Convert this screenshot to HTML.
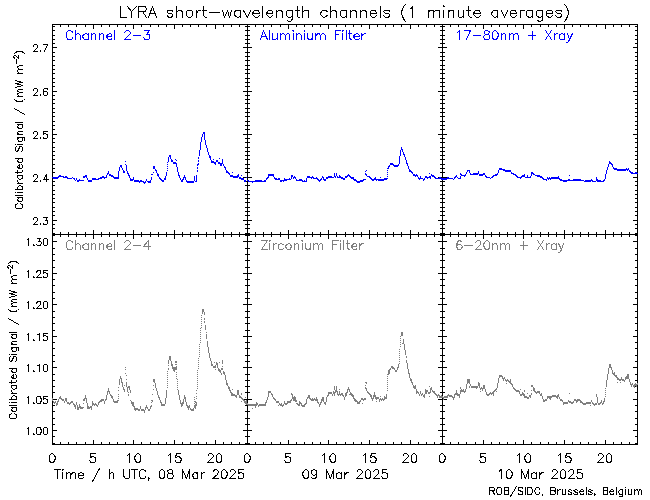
<!DOCTYPE html>
<html lang="en"><head><meta charset="utf-8"><title>LYRA short-wavelength channels (1 minute averages)</title>
<style>html,body{margin:0;padding:0;background:#fff;font-family:"Liberation Sans",sans-serif}svg{display:block}</style>
</head><body>
<svg width="650" height="500" viewBox="0 0 650 500" shape-rendering="crispEdges" fill="none" stroke-width="1" stroke-linecap="square" stroke-linejoin="miter">
<rect width="650" height="500" fill="#fff"/>
<g stroke="#000" stroke-linecap="butt"><path d="M52.5 24 V445M247.5 24 V445M442.5 24 V445M637.5 24 V445M52 24.5 H638M52 234.5 H638M52 444.5 H638M52.5 24 V29M52.5 230 V239M52.5 440 V445M60.5 24 V27M60.5 232 V237M60.5 442 V445M68.5 24 V27M68.5 232 V237M68.5 442 V445M76.5 24 V27M76.5 232 V237M76.5 442 V445M85.5 24 V27M85.5 232 V237M85.5 442 V445M93.5 24 V29M93.5 230 V239M93.5 440 V445M101.5 24 V27M101.5 232 V237M101.5 442 V445M109.5 24 V27M109.5 232 V237M109.5 442 V445M117.5 24 V27M117.5 232 V237M117.5 442 V445M125.5 24 V27M125.5 232 V237M125.5 442 V445M133.5 24 V29M133.5 230 V239M133.5 440 V445M141.5 24 V27M141.5 232 V237M141.5 442 V445M150.5 24 V27M150.5 232 V237M150.5 442 V445M158.5 24 V27M158.5 232 V237M158.5 442 V445M166.5 24 V27M166.5 232 V237M166.5 442 V445M174.5 24 V29M174.5 230 V239M174.5 440 V445M182.5 24 V27M182.5 232 V237M182.5 442 V445M190.5 24 V27M190.5 232 V237M190.5 442 V445M198.5 24 V27M198.5 232 V237M198.5 442 V445M206.5 24 V27M206.5 232 V237M206.5 442 V445M215.5 24 V29M215.5 230 V239M215.5 440 V445M223.5 24 V27M223.5 232 V237M223.5 442 V445M231.5 24 V27M231.5 232 V237M231.5 442 V445M239.5 24 V27M239.5 232 V237M239.5 442 V445M247.5 24 V27M247.5 232 V237M247.5 442 V445M247.5 24 V29M247.5 230 V239M247.5 440 V445M255.5 24 V27M255.5 232 V237M255.5 442 V445M263.5 24 V27M263.5 232 V237M263.5 442 V445M271.5 24 V27M271.5 232 V237M271.5 442 V445M280.5 24 V27M280.5 232 V237M280.5 442 V445M288.5 24 V29M288.5 230 V239M288.5 440 V445M296.5 24 V27M296.5 232 V237M296.5 442 V445M304.5 24 V27M304.5 232 V237M304.5 442 V445M312.5 24 V27M312.5 232 V237M312.5 442 V445M320.5 24 V27M320.5 232 V237M320.5 442 V445M328.5 24 V29M328.5 230 V239M328.5 440 V445M336.5 24 V27M336.5 232 V237M336.5 442 V445M345.5 24 V27M345.5 232 V237M345.5 442 V445M353.5 24 V27M353.5 232 V237M353.5 442 V445M361.5 24 V27M361.5 232 V237M361.5 442 V445M369.5 24 V29M369.5 230 V239M369.5 440 V445M377.5 24 V27M377.5 232 V237M377.5 442 V445M385.5 24 V27M385.5 232 V237M385.5 442 V445M393.5 24 V27M393.5 232 V237M393.5 442 V445M401.5 24 V27M401.5 232 V237M401.5 442 V445M410.5 24 V29M410.5 230 V239M410.5 440 V445M418.5 24 V27M418.5 232 V237M418.5 442 V445M426.5 24 V27M426.5 232 V237M426.5 442 V445M434.5 24 V27M434.5 232 V237M434.5 442 V445M442.5 24 V27M442.5 232 V237M442.5 442 V445M442.5 24 V29M442.5 230 V239M442.5 440 V445M450.5 24 V27M450.5 232 V237M450.5 442 V445M458.5 24 V27M458.5 232 V237M458.5 442 V445M466.5 24 V27M466.5 232 V237M466.5 442 V445M475.5 24 V27M475.5 232 V237M475.5 442 V445M483.5 24 V29M483.5 230 V239M483.5 440 V445M491.5 24 V27M491.5 232 V237M491.5 442 V445M499.5 24 V27M499.5 232 V237M499.5 442 V445M507.5 24 V27M507.5 232 V237M507.5 442 V445M515.5 24 V27M515.5 232 V237M515.5 442 V445M523.5 24 V29M523.5 230 V239M523.5 440 V445M531.5 24 V27M531.5 232 V237M531.5 442 V445M540.5 24 V27M540.5 232 V237M540.5 442 V445M548.5 24 V27M548.5 232 V237M548.5 442 V445M556.5 24 V27M556.5 232 V237M556.5 442 V445M564.5 24 V29M564.5 230 V239M564.5 440 V445M572.5 24 V27M572.5 232 V237M572.5 442 V445M580.5 24 V27M580.5 232 V237M580.5 442 V445M588.5 24 V27M588.5 232 V237M588.5 442 V445M596.5 24 V27M596.5 232 V237M596.5 442 V445M605.5 24 V29M605.5 230 V239M605.5 440 V445M613.5 24 V27M613.5 232 V237M613.5 442 V445M621.5 24 V27M621.5 232 V237M621.5 442 V445M629.5 24 V27M629.5 232 V237M629.5 442 V445M637.5 24 V27M637.5 232 V237M637.5 442 V445M52 26.5 H55M245 26.5 H250M440 26.5 H445M635 26.5 H638M52 30.5 H55M245 30.5 H250M440 30.5 H445M635 30.5 H638M52 35.5 H55M245 35.5 H250M440 35.5 H445M635 35.5 H638M52 39.5 H55M245 39.5 H250M440 39.5 H445M635 39.5 H638M52 43.5 H55M245 43.5 H250M440 43.5 H445M635 43.5 H638M52 47.5 H57M243 47.5 H252M438 47.5 H447M633 47.5 H638M52 52.5 H55M245 52.5 H250M440 52.5 H445M635 52.5 H638M52 56.5 H55M245 56.5 H250M440 56.5 H445M635 56.5 H638M52 60.5 H55M245 60.5 H250M440 60.5 H445M635 60.5 H638M52 65.5 H55M245 65.5 H250M440 65.5 H445M635 65.5 H638M52 69.5 H55M245 69.5 H250M440 69.5 H445M635 69.5 H638M52 73.5 H55M245 73.5 H250M440 73.5 H445M635 73.5 H638M52 78.5 H55M245 78.5 H250M440 78.5 H445M635 78.5 H638M52 82.5 H55M245 82.5 H250M440 82.5 H445M635 82.5 H638M52 86.5 H55M245 86.5 H250M440 86.5 H445M635 86.5 H638M52 91.5 H57M243 91.5 H252M438 91.5 H447M633 91.5 H638M52 95.5 H55M245 95.5 H250M440 95.5 H445M635 95.5 H638M52 99.5 H55M245 99.5 H250M440 99.5 H445M635 99.5 H638M52 103.5 H55M245 103.5 H250M440 103.5 H445M635 103.5 H638M52 108.5 H55M245 108.5 H250M440 108.5 H445M635 108.5 H638M52 112.5 H55M245 112.5 H250M440 112.5 H445M635 112.5 H638M52 116.5 H55M245 116.5 H250M440 116.5 H445M635 116.5 H638M52 121.5 H55M245 121.5 H250M440 121.5 H445M635 121.5 H638M52 125.5 H55M245 125.5 H250M440 125.5 H445M635 125.5 H638M52 129.5 H55M245 129.5 H250M440 129.5 H445M635 129.5 H638M52 134.5 H57M243 134.5 H252M438 134.5 H447M633 134.5 H638M52 138.5 H55M245 138.5 H250M440 138.5 H445M635 138.5 H638M52 142.5 H55M245 142.5 H250M440 142.5 H445M635 142.5 H638M52 147.5 H55M245 147.5 H250M440 147.5 H445M635 147.5 H638M52 151.5 H55M245 151.5 H250M440 151.5 H445M635 151.5 H638M52 155.5 H55M245 155.5 H250M440 155.5 H445M635 155.5 H638M52 159.5 H55M245 159.5 H250M440 159.5 H445M635 159.5 H638M52 164.5 H55M245 164.5 H250M440 164.5 H445M635 164.5 H638M52 168.5 H55M245 168.5 H250M440 168.5 H445M635 168.5 H638M52 172.5 H55M245 172.5 H250M440 172.5 H445M635 172.5 H638M52 177.5 H57M243 177.5 H252M438 177.5 H447M633 177.5 H638M52 181.5 H55M245 181.5 H250M440 181.5 H445M635 181.5 H638M52 185.5 H55M245 185.5 H250M440 185.5 H445M635 185.5 H638M52 190.5 H55M245 190.5 H250M440 190.5 H445M635 190.5 H638M52 194.5 H55M245 194.5 H250M440 194.5 H445M635 194.5 H638M52 198.5 H55M245 198.5 H250M440 198.5 H445M635 198.5 H638M52 202.5 H55M245 202.5 H250M440 202.5 H445M635 202.5 H638M52 207.5 H55M245 207.5 H250M440 207.5 H445M635 207.5 H638M52 211.5 H55M245 211.5 H250M440 211.5 H445M635 211.5 H638M52 215.5 H55M245 215.5 H250M440 215.5 H445M635 215.5 H638M52 220.5 H57M243 220.5 H252M438 220.5 H447M633 220.5 H638M52 224.5 H55M245 224.5 H250M440 224.5 H445M635 224.5 H638M52 228.5 H55M245 228.5 H250M440 228.5 H445M635 228.5 H638M52 233.5 H55M245 233.5 H250M440 233.5 H445M635 233.5 H638M52 235.5 H55M245 235.5 H250M440 235.5 H445M635 235.5 H638M52 241.5 H57M243 241.5 H252M438 241.5 H447M633 241.5 H638M52 248.5 H55M245 248.5 H250M440 248.5 H445M635 248.5 H638M52 254.5 H55M245 254.5 H250M440 254.5 H445M635 254.5 H638M52 260.5 H55M245 260.5 H250M440 260.5 H445M635 260.5 H638M52 267.5 H55M245 267.5 H250M440 267.5 H445M635 267.5 H638M52 273.5 H57M243 273.5 H252M438 273.5 H447M633 273.5 H638M52 279.5 H55M245 279.5 H250M440 279.5 H445M635 279.5 H638M52 285.5 H55M245 285.5 H250M440 285.5 H445M635 285.5 H638M52 292.5 H55M245 292.5 H250M440 292.5 H445M635 292.5 H638M52 298.5 H55M245 298.5 H250M440 298.5 H445M635 298.5 H638M52 304.5 H57M243 304.5 H252M438 304.5 H447M633 304.5 H638M52 311.5 H55M245 311.5 H250M440 311.5 H445M635 311.5 H638M52 317.5 H55M245 317.5 H250M440 317.5 H445M635 317.5 H638M52 323.5 H55M245 323.5 H250M440 323.5 H445M635 323.5 H638M52 330.5 H55M245 330.5 H250M440 330.5 H445M635 330.5 H638M52 336.5 H57M243 336.5 H252M438 336.5 H447M633 336.5 H638M52 342.5 H55M245 342.5 H250M440 342.5 H445M635 342.5 H638M52 348.5 H55M245 348.5 H250M440 348.5 H445M635 348.5 H638M52 355.5 H55M245 355.5 H250M440 355.5 H445M635 355.5 H638M52 361.5 H55M245 361.5 H250M440 361.5 H445M635 361.5 H638M52 367.5 H57M243 367.5 H252M438 367.5 H447M633 367.5 H638M52 374.5 H55M245 374.5 H250M440 374.5 H445M635 374.5 H638M52 380.5 H55M245 380.5 H250M440 380.5 H445M635 380.5 H638M52 386.5 H55M245 386.5 H250M440 386.5 H445M635 386.5 H638M52 392.5 H55M245 392.5 H250M440 392.5 H445M635 392.5 H638M52 399.5 H57M243 399.5 H252M438 399.5 H447M633 399.5 H638M52 405.5 H55M245 405.5 H250M440 405.5 H445M635 405.5 H638M52 411.5 H55M245 411.5 H250M440 411.5 H445M635 411.5 H638M52 418.5 H55M245 418.5 H250M440 418.5 H445M635 418.5 H638M52 424.5 H55M245 424.5 H250M440 424.5 H445M635 424.5 H638M52 430.5 H57M243 430.5 H252M438 430.5 H447M633 430.5 H638M52 436.5 H55M245 436.5 H250M440 436.5 H445M635 436.5 H638M52 443.5 H55M245 443.5 H250M440 443.5 H445M635 443.5 H638"/></g>
<g stroke="#0000ff" stroke-linecap="butt"><path d="M83.5 180 V181M125.5 164 V165M151.5 174 V175M153.5 172 V173M167.5 162 V163M167.5 164 V165M167.5 166 V167M167.5 168 V169M167.5 170 V171M175.5 159 V160M176.5 160 V161M197.5 164 V166M197.5 167 V169M197.5 170 V172M198.5 157 V159M198.5 160 V162M198.5 163 V165M213.5 159 V160M219.5 158 V159M232.5 172 V173M241.5 175 V176M52.5 177 V178M53.5 177 V179M54.5 177 V179M55.5 177 V179M56.5 177 V179M57.5 177 V179M58.5 176 V178M59.5 175 V177M60.5 175 V177M61.5 176 V177M62.5 176 V177M63.5 176 V178M64.5 177 V178M65.5 176 V178M66.5 176 V178M67.5 177 V179M68.5 178 V179M69.5 178 V179M70.5 178 V179M71.5 178 V179M72.5 177 V178M73.5 178 V179M74.5 178 V180M75.5 180 V181M76.5 178 V180M77.5 180 V182M78.5 180 V182M79.5 179 V181M80.5 180 V181M81.5 180 V181M82.5 180 V181M83.5 176 V178M84.5 176 V178M85.5 175 V177M86.5 175 V178M87.5 178 V180M88.5 180 V182M89.5 180 V182M90.5 180 V182M91.5 180 V182M92.5 178 V180M93.5 178 V180M94.5 178 V180M95.5 178 V180M96.5 179 V180M97.5 179 V180M98.5 178 V180M99.5 178 V179M100.5 177 V179M101.5 177 V179M102.5 176 V178M103.5 176 V178M104.5 177 V179M105.5 177 V178M106.5 175 V178M107.5 173 V175M108.5 171 V174M109.5 174 V176M110.5 174 V176M111.5 175 V177M112.5 175 V177M113.5 176 V178M114.5 177 V179M115.5 177 V179M116.5 177 V179M117.5 177 V179M118.5 171 V179M119.5 167 V171M120.5 165 V167M121.5 165 V168M122.5 168 V170M123.5 170 V173M124.5 171 V173M125.5 161 V162M126.5 165 V171M127.5 171 V174M128.5 173 V176M129.5 175 V178M130.5 178 V181M131.5 179 V181M132.5 179 V181M133.5 177 V180M134.5 180 V182M135.5 180 V182M136.5 180 V182M137.5 180 V182M138.5 180 V182M139.5 181 V183M140.5 180 V182M141.5 180 V182M142.5 181 V182M143.5 181 V183M144.5 182 V184M145.5 181 V183M146.5 179 V181M147.5 181 V182M148.5 181 V183M149.5 181 V183M150.5 180 V183M151.5 177 V180M152.5 174 V175M153.5 166 V169M154.5 166 V169M155.5 169 V171M156.5 170 V173M157.5 173 V176M158.5 174 V177M159.5 177 V179M160.5 178 V180M161.5 179 V181M162.5 180 V182M163.5 180 V182M164.5 178 V180M165.5 176 V180M166.5 172 V176M168.5 157 V162M169.5 155 V157M170.5 155 V159M171.5 159 V162M172.5 160 V162M173.5 162 V164M174.5 162 V164M175.5 162 V164M176.5 163 V167M177.5 167 V172M178.5 172 V176M179.5 175 V178M180.5 178 V180M181.5 180 V182M182.5 179 V182M183.5 177 V180M184.5 175 V178M185.5 177 V180M186.5 180 V182M187.5 181 V183M188.5 181 V183M189.5 181 V183M190.5 181 V183M191.5 181 V183M192.5 181 V183M193.5 181 V183M194.5 176 V181M195.5 181 V182M196.5 175 V182M199.5 150 V156M200.5 142 V150M201.5 137 V142M202.5 134 V137M203.5 132 V134M204.5 132 V140M205.5 140 V145M206.5 145 V148M207.5 148 V152M208.5 152 V155M209.5 155 V158M210.5 156 V160M211.5 160 V163M212.5 161 V163M213.5 161 V163M214.5 162 V164M215.5 162 V165M216.5 160 V162M217.5 160 V162M218.5 162 V164M219.5 162 V164M220.5 163 V166M221.5 163 V166M222.5 159 V164M223.5 164 V166M224.5 166 V168M225.5 167 V170M226.5 170 V173M227.5 171 V173M228.5 172 V174M229.5 173 V175M230.5 175 V177M231.5 175 V177M232.5 175 V177M233.5 176 V178M234.5 176 V178M235.5 176 V178M236.5 176 V178M237.5 175 V178M238.5 174 V177M239.5 177 V179M240.5 177 V179M241.5 178 V180M242.5 178 V180M243.5 178 V180M244.5 180 V182M245.5 180 V182M246.5 177 V178M365.5 171 V172M365.5 179 V180M366.5 170 V171M380.5 177 V178M387.5 168 V169M387.5 170 V171M387.5 172 V173M387.5 174 V175M387.5 176 V177M387.5 178 V179M429.5 173 V174M247.5 180 V181M248.5 180 V182M249.5 181 V182M250.5 181 V182M251.5 181 V182M252.5 181 V183M253.5 181 V182M254.5 181 V182M255.5 180 V182M256.5 180 V182M257.5 180 V182M258.5 180 V182M259.5 180 V182M260.5 180 V182M261.5 180 V182M262.5 181 V182M263.5 181 V182M264.5 180 V182M265.5 180 V182M266.5 178 V180M267.5 177 V179M268.5 174 V178M269.5 174 V176M270.5 174 V176M271.5 174 V176M272.5 174 V176M273.5 174 V177M274.5 177 V179M275.5 178 V180M276.5 178 V180M277.5 179 V180M278.5 178 V180M279.5 178 V180M280.5 180 V182M281.5 180 V182M282.5 180 V181M283.5 180 V182M284.5 178 V181M285.5 179 V181M286.5 179 V181M287.5 179 V180M288.5 179 V180M289.5 178 V180M290.5 179 V180M291.5 175 V179M292.5 175 V177M293.5 177 V179M294.5 176 V178M295.5 177 V179M296.5 179 V181M297.5 180 V181M298.5 180 V181M299.5 179 V181M300.5 179 V181M301.5 179 V181M302.5 180 V182M303.5 181 V182M304.5 180 V182M305.5 181 V182M306.5 178 V182M307.5 176 V178M308.5 176 V178M309.5 176 V178M310.5 177 V178M311.5 177 V179M312.5 176 V178M313.5 177 V179M314.5 178 V179M315.5 178 V179M316.5 177 V179M317.5 178 V180M318.5 179 V181M319.5 180 V182M320.5 179 V181M321.5 178 V180M322.5 176 V178M323.5 177 V180M324.5 179 V181M325.5 179 V181M326.5 177 V179M327.5 177 V179M328.5 176 V178M329.5 176 V178M330.5 176 V178M331.5 176 V178M332.5 177 V178M333.5 177 V178M334.5 173 V177M335.5 176 V178M336.5 173 V176M337.5 176 V178M338.5 177 V178M339.5 175 V178M340.5 176 V178M341.5 177 V179M342.5 177 V179M343.5 178 V180M344.5 178 V180M345.5 176 V178M346.5 176 V178M347.5 175 V177M348.5 174 V176M349.5 175 V177M350.5 176 V178M351.5 177 V179M352.5 177 V179M353.5 177 V180M354.5 179 V181M355.5 179 V181M356.5 180 V182M357.5 181 V183M358.5 181 V183M359.5 181 V183M360.5 180 V182M361.5 180 V182M362.5 180 V182M363.5 179 V181M364.5 179 V180M365.5 173 V175M366.5 174 V176M367.5 176 V177M368.5 176 V177M369.5 176 V178M370.5 177 V179M371.5 178 V180M372.5 179 V181M373.5 179 V181M374.5 178 V180M375.5 177 V180M376.5 179 V181M377.5 179 V180M378.5 179 V181M379.5 179 V181M380.5 179 V181M381.5 179 V181M382.5 179 V181M383.5 179 V181M384.5 178 V180M385.5 178 V180M386.5 178 V180M388.5 166 V169M389.5 165 V167M390.5 163 V165M391.5 163 V165M392.5 163 V165M393.5 164 V166M394.5 165 V167M395.5 165 V167M396.5 165 V167M397.5 165 V167M398.5 164 V166M399.5 156 V164M400.5 150 V156M401.5 147 V150M402.5 149 V152M403.5 152 V155M404.5 154 V157M405.5 157 V160M406.5 160 V164M407.5 163 V166M408.5 166 V169M409.5 169 V172M410.5 170 V172M411.5 171 V173M412.5 172 V174M413.5 174 V176M414.5 174 V176M415.5 175 V177M416.5 174 V176M417.5 175 V177M418.5 177 V179M419.5 178 V180M420.5 176 V179M421.5 178 V179M422.5 178 V179M423.5 179 V181M424.5 178 V180M425.5 176 V178M426.5 176 V178M427.5 177 V179M428.5 177 V178M429.5 176 V178M430.5 176 V179M431.5 174 V176M432.5 175 V177M433.5 175 V177M434.5 176 V178M435.5 177 V179M436.5 178 V179M437.5 178 V179M438.5 178 V179M439.5 177 V179M440.5 177 V179M441.5 178 V180M460.5 173 V175M569.5 175 V176M442.5 178 V180M443.5 178 V180M444.5 178 V180M445.5 178 V180M446.5 178 V180M447.5 177 V179M448.5 177 V179M449.5 178 V179M450.5 178 V179M451.5 178 V179M452.5 178 V179M453.5 179 V180M454.5 177 V179M455.5 176 V178M456.5 175 V177M457.5 177 V178M458.5 178 V179M459.5 178 V179M460.5 176 V179M461.5 174 V176M462.5 175 V176M463.5 175 V176M464.5 175 V177M465.5 174 V176M466.5 172 V174M467.5 170 V172M468.5 170 V171M469.5 170 V173M470.5 173 V175M471.5 174 V175M472.5 174 V175M473.5 173 V175M474.5 173 V175M475.5 173 V175M476.5 173 V175M477.5 173 V175M478.5 171 V174M479.5 174 V176M480.5 174 V176M481.5 174 V176M482.5 174 V176M483.5 173 V175M484.5 173 V175M485.5 175 V177M486.5 176 V178M487.5 177 V178M488.5 177 V178M489.5 177 V178M490.5 178 V179M491.5 177 V178M492.5 176 V178M493.5 175 V177M494.5 175 V176M495.5 174 V176M496.5 174 V176M497.5 173 V175M498.5 170 V173M499.5 168 V170M500.5 168 V170M501.5 168 V170M502.5 169 V170M503.5 169 V171M504.5 169 V171M505.5 170 V172M506.5 170 V172M507.5 170 V172M508.5 170 V172M509.5 170 V172M510.5 170 V172M511.5 172 V174M512.5 173 V174M513.5 173 V175M514.5 174 V175M515.5 174 V176M516.5 175 V177M517.5 176 V178M518.5 177 V178M519.5 177 V178M520.5 177 V179M521.5 176 V178M522.5 175 V177M523.5 175 V177M524.5 174 V177M525.5 177 V178M526.5 177 V178M527.5 175 V178M528.5 177 V178M529.5 177 V178M530.5 176 V178M531.5 172 V176M532.5 172 V174M533.5 173 V175M534.5 174 V175M535.5 175 V176M536.5 175 V176M537.5 175 V177M538.5 175 V177M539.5 175 V177M540.5 176 V178M541.5 176 V178M542.5 177 V179M543.5 178 V180M544.5 179 V180M545.5 179 V180M546.5 179 V181M547.5 177 V179M548.5 178 V180M549.5 177 V179M550.5 178 V180M551.5 177 V179M552.5 177 V179M553.5 177 V179M554.5 177 V179M555.5 177 V179M556.5 177 V179M557.5 177 V179M558.5 176 V179M559.5 178 V180M560.5 179 V181M561.5 179 V181M562.5 180 V181M563.5 180 V182M564.5 180 V182M565.5 180 V182M566.5 180 V182M567.5 180 V181M568.5 179 V181M569.5 179 V181M570.5 180 V181M571.5 180 V181M572.5 180 V181M573.5 179 V181M574.5 179 V181M575.5 179 V181M576.5 179 V181M577.5 179 V181M578.5 179 V181M579.5 179 V181M580.5 179 V181M581.5 180 V181M582.5 180 V181M583.5 180 V181M584.5 181 V182M585.5 180 V182M586.5 180 V182M587.5 180 V182M588.5 180 V182M589.5 180 V182M590.5 180 V182M591.5 179 V181M592.5 180 V182M593.5 181 V182M594.5 181 V182M595.5 181 V182M596.5 177 V181M597.5 179 V182M598.5 180 V182M599.5 180 V182M600.5 180 V182M601.5 181 V182M602.5 181 V182M603.5 180 V182M604.5 179 V181M605.5 174 V179M606.5 170 V174M607.5 167 V170M608.5 164 V167M609.5 161 V164M610.5 162 V164M611.5 163 V165M612.5 164 V167M613.5 167 V169M614.5 168 V170M615.5 168 V170M616.5 168 V170M617.5 169 V171M618.5 169 V171M619.5 169 V171M620.5 169 V171M621.5 169 V171M622.5 169 V171M623.5 169 V171M624.5 169 V171M625.5 169 V171M626.5 168 V170M627.5 169 V171M628.5 168 V170M629.5 170 V172M630.5 171 V173M631.5 172 V174M632.5 172 V174M633.5 173 V174M634.5 173 V174M635.5 172 V174M636.5 172 V174M637.5 173 V174"/></g>
<g stroke="#7f7f7f" stroke-linecap="butt"><path d="M83.5 403 V404M83.5 407 V408M104.5 403 V404M118.5 390 V391M118.5 394 V395M118.5 396 V397M118.5 398 V399M118.5 400 V401M124.5 385 V386M125.5 367 V368M125.5 369 V370M126.5 379 V380M126.5 375 V376M128.5 392 V393M128.5 394 V396M130.5 400 V401M151.5 400 V401M151.5 402 V403M152.5 394 V395M153.5 385 V386M153.5 389 V390M167.5 371 V372M167.5 373 V374M167.5 375 V376M167.5 377 V378M167.5 379 V380M167.5 381 V382M167.5 383 V384M167.5 385 V386M167.5 387 V388M168.5 365 V366M168.5 368 V370M175.5 364 V365M175.5 361 V363M176.5 364 V365M176.5 361 V363M176.5 372 V373M176.5 374 V375M176.5 376 V377M176.5 378 V379M177.5 379 V380M177.5 381 V382M177.5 383 V384M177.5 385 V386M177.5 387 V388M177.5 389 V390M194.5 397 V398M194.5 399 V400M194.5 401 V402M194.5 403 V404M194.5 405 V406M195.5 404 V406M195.5 401 V403M196.5 393 V394M196.5 396 V397M196.5 398 V399M196.5 390 V391M197.5 370 V371M197.5 372 V373M197.5 374 V375M197.5 376 V377M197.5 378 V379M197.5 380 V381M197.5 382 V383M197.5 384 V385M197.5 386 V387M197.5 388 V389M198.5 358 V359M198.5 360 V361M198.5 362 V363M198.5 364 V365M198.5 366 V367M198.5 368 V369M199.5 344 V345M199.5 346 V347M199.5 348 V349M199.5 350 V351M199.5 352 V353M199.5 354 V355M199.5 356 V357M200.5 328 V329M200.5 330 V331M200.5 332 V333M200.5 334 V335M200.5 336 V337M200.5 338 V339M200.5 340 V341M200.5 342 V343M201.5 315 V316M201.5 317 V318M201.5 319 V320M201.5 321 V322M201.5 323 V324M201.5 325 V326M201.5 327 V328M204.5 318 V320M204.5 321 V323M206.5 332 V333M214.5 362 V363M215.5 369 V370M219.5 362 V363M221.5 368 V370M222.5 366 V367M222.5 368 V370M232.5 389 V390M241.5 393 V395M241.5 401 V402M245.5 397 V398M52.5 398 V401M53.5 401 V403M54.5 402 V404M55.5 401 V403M56.5 403 V406M57.5 401 V405M58.5 399 V402M59.5 397 V399M60.5 396 V399M61.5 398 V400M62.5 399 V401M63.5 399 V401M64.5 401 V403M65.5 398 V401M66.5 398 V402M67.5 402 V404M68.5 402 V404M69.5 403 V405M70.5 402 V404M71.5 401 V403M72.5 401 V403M73.5 403 V405M74.5 404 V407M75.5 405 V409M76.5 402 V405M77.5 405 V410M78.5 407 V410M79.5 404 V408M80.5 406 V409M81.5 407 V409M82.5 407 V409M83.5 399 V401M84.5 398 V401M85.5 395 V399M86.5 398 V403M87.5 403 V409M88.5 406 V409M89.5 407 V409M90.5 406 V408M91.5 406 V410M92.5 401 V406M93.5 403 V405M94.5 404 V406M95.5 403 V405M96.5 404 V406M97.5 405 V407M98.5 402 V405M99.5 401 V403M100.5 400 V402M101.5 399 V402M102.5 399 V401M103.5 399 V401M104.5 401 V403M105.5 399 V401M106.5 395 V400M107.5 391 V395M108.5 388 V392M109.5 391 V394M110.5 394 V396M111.5 395 V398M112.5 396 V399M113.5 399 V402M114.5 401 V403M115.5 401 V403M116.5 401 V403M117.5 400 V403M118.5 387 V388M119.5 379 V385M120.5 376 V379M121.5 378 V383M122.5 382 V387M123.5 387 V390M124.5 389 V392M125.5 373 V374M126.5 382 V387M127.5 387 V392M128.5 386 V388M129.5 386 V390M130.5 390 V393M131.5 401 V404M132.5 402 V406M133.5 402 V407M134.5 406 V410M135.5 408 V411M136.5 408 V410M137.5 408 V410M138.5 409 V411M139.5 409 V411M140.5 406 V409M141.5 409 V411M142.5 409 V411M143.5 409 V411M144.5 410 V413M145.5 407 V410M146.5 405 V408M147.5 407 V409M148.5 409 V411M149.5 409 V411M150.5 406 V409M151.5 405 V407M152.5 400 V402M153.5 379 V382M154.5 379 V383M155.5 383 V388M156.5 388 V391M157.5 391 V395M158.5 395 V398M159.5 397 V400M160.5 400 V403M161.5 402 V406M162.5 404 V406M163.5 404 V406M164.5 404 V406M165.5 398 V404M166.5 390 V398M168.5 360 V364M169.5 356 V360M170.5 356 V361M171.5 361 V366M172.5 364 V369M173.5 367 V371M174.5 367 V372M175.5 367 V370M176.5 366 V370M178.5 390 V395M179.5 395 V400M180.5 400 V404M181.5 403 V407M182.5 402 V406M183.5 399 V404M184.5 395 V399M185.5 397 V402M186.5 402 V406M187.5 405 V408M188.5 406 V410M189.5 405 V408M190.5 408 V410M191.5 409 V411M192.5 409 V411M193.5 408 V411M194.5 406 V408M195.5 406 V409M196.5 402 V406M202.5 309 V314M203.5 309 V312M204.5 312 V315M205.5 325 V330M206.5 334 V339M207.5 341 V347M208.5 347 V353M209.5 353 V358M210.5 358 V361M211.5 361 V366M212.5 364 V366M213.5 366 V368M214.5 366 V368M215.5 365 V368M216.5 362 V365M217.5 363 V368M218.5 368 V371M219.5 369 V372M220.5 370 V373M221.5 373 V375M222.5 360 V364M223.5 371 V374M224.5 372 V375M225.5 375 V380M226.5 380 V385M227.5 383 V386M228.5 386 V389M229.5 387 V391M230.5 390 V393M231.5 392 V396M232.5 393 V396M233.5 394 V396M234.5 394 V396M235.5 395 V397M236.5 395 V398M237.5 390 V395M238.5 390 V395M239.5 395 V398M240.5 396 V398M241.5 397 V399M242.5 398 V400M243.5 399 V401M244.5 400 V403M245.5 401 V404M246.5 400 V405M252.5 408 V409M278.5 405 V406M291.5 393 V395M296.5 403 V404M334.5 392 V394M334.5 394 V396M339.5 389 V390M339.5 391 V393M349.5 394 V395M362.5 403 V404M365.5 385 V386M365.5 382 V383M365.5 398 V400M366.5 382 V384M376.5 401 V402M380.5 396 V397M387.5 374 V375M387.5 376 V377M387.5 378 V379M387.5 380 V381M387.5 382 V383M387.5 384 V385M387.5 386 V387M387.5 388 V389M387.5 390 V391M399.5 349 V350M399.5 351 V352M399.5 353 V354M399.5 355 V356M399.5 357 V358M399.5 359 V360M399.5 361 V362M399.5 363 V364M400.5 336 V337M400.5 338 V339M400.5 340 V341M400.5 342 V343M400.5 344 V345M400.5 346 V347M402.5 343 V344M406.5 356 V358M429.5 386 V387M429.5 396 V397M247.5 403 V405M248.5 404 V406M249.5 404 V406M250.5 404 V406M251.5 404 V406M252.5 404 V406M253.5 404 V406M254.5 404 V406M255.5 404 V408M256.5 402 V406M257.5 403 V405M258.5 405 V407M259.5 404 V406M260.5 404 V406M261.5 404 V406M262.5 404 V406M263.5 404 V406M264.5 404 V406M265.5 402 V406M266.5 400 V403M267.5 397 V400M268.5 391 V397M269.5 391 V393M270.5 391 V393M271.5 393 V395M272.5 394 V397M273.5 397 V399M274.5 398 V400M275.5 399 V401M276.5 401 V403M277.5 401 V403M278.5 401 V403M279.5 403 V405M280.5 404 V406M281.5 403 V406M282.5 405 V407M283.5 404 V406M284.5 401 V404M285.5 403 V405M286.5 403 V405M287.5 401 V404M288.5 401 V403M289.5 401 V403M290.5 400 V403M291.5 399 V401M292.5 394 V399M293.5 397 V401M294.5 396 V401M295.5 397 V402M296.5 400 V402M297.5 403 V405M298.5 404 V406M299.5 401 V406M300.5 402 V404M301.5 403 V406M302.5 405 V407M303.5 405 V407M304.5 404 V407M305.5 403 V405M306.5 399 V404M307.5 397 V399M308.5 395 V398M309.5 395 V399M310.5 398 V400M311.5 399 V401M312.5 398 V401M313.5 399 V401M314.5 398 V400M315.5 399 V401M316.5 397 V401M317.5 399 V403M318.5 402 V404M319.5 404 V407M320.5 402 V405M321.5 399 V403M322.5 397 V401M323.5 397 V402M324.5 402 V404M325.5 402 V405M326.5 397 V402M327.5 395 V397M328.5 392 V396M329.5 392 V394M330.5 392 V394M331.5 392 V394M332.5 394 V396M333.5 391 V394M334.5 386 V390M335.5 390 V393M336.5 386 V392M337.5 391 V395M338.5 394 V396M339.5 393 V395M340.5 394 V396M341.5 393 V395M342.5 393 V396M343.5 395 V397M344.5 397 V400M345.5 393 V397M346.5 392 V396M347.5 389 V393M348.5 387 V390M349.5 389 V392M350.5 392 V395M351.5 393 V396M352.5 394 V397M353.5 395 V399M354.5 398 V401M355.5 399 V402M356.5 400 V402M357.5 401 V404M358.5 402 V404M359.5 401 V404M360.5 400 V402M361.5 398 V400M362.5 398 V400M363.5 399 V401M364.5 398 V400M365.5 387 V389M366.5 388 V391M367.5 391 V393M368.5 392 V394M369.5 393 V395M370.5 394 V397M371.5 395 V399M372.5 398 V401M373.5 395 V399M374.5 392 V397M375.5 395 V399M376.5 397 V400M377.5 397 V399M378.5 397 V399M379.5 399 V402M380.5 398 V400M381.5 399 V401M382.5 398 V400M383.5 399 V401M384.5 396 V400M385.5 397 V399M386.5 394 V399M388.5 370 V375M389.5 369 V374M390.5 368 V370M391.5 366 V368M392.5 366 V369M393.5 367 V369M394.5 368 V370M395.5 370 V372M396.5 370 V372M397.5 367 V370M398.5 364 V368M401.5 332 V336M402.5 332 V336M403.5 339 V344M404.5 344 V350M405.5 350 V355M406.5 360 V363M407.5 363 V369M408.5 369 V374M409.5 373 V378M410.5 378 V381M411.5 379 V383M412.5 382 V385M413.5 385 V388M414.5 386 V389M415.5 385 V389M416.5 389 V394M417.5 391 V393M418.5 392 V394M419.5 394 V396M420.5 391 V394M421.5 394 V396M422.5 393 V395M423.5 395 V397M424.5 394 V398M425.5 389 V394M426.5 390 V394M427.5 390 V392M428.5 392 V394M429.5 392 V394M430.5 388 V393M431.5 387 V390M432.5 390 V392M433.5 391 V393M434.5 391 V394M435.5 393 V395M436.5 394 V396M437.5 395 V398M438.5 394 V396M439.5 395 V398M440.5 396 V398M441.5 395 V398M460.5 387 V389M469.5 386 V388M480.5 391 V392M493.5 395 V396M496.5 391 V392M506.5 383 V384M520.5 389 V390M524.5 390 V392M527.5 393 V394M531.5 390 V391M531.5 393 V395M569.5 393 V394M590.5 405 V406M596.5 403 V405M605.5 388 V389M605.5 390 V391M605.5 392 V393M605.5 394 V395M605.5 396 V397M617.5 382 V383M620.5 382 V383M442.5 396 V398M443.5 397 V400M444.5 396 V398M445.5 396 V398M446.5 396 V398M447.5 395 V398M448.5 394 V396M449.5 395 V397M450.5 395 V397M451.5 395 V397M452.5 396 V398M453.5 397 V400M454.5 394 V398M455.5 393 V395M456.5 390 V395M457.5 393 V396M458.5 394 V396M459.5 394 V398M460.5 390 V394M461.5 389 V392M462.5 390 V392M463.5 389 V392M464.5 391 V393M465.5 389 V392M466.5 384 V389M467.5 379 V384M468.5 379 V383M469.5 379 V384M470.5 384 V386M471.5 386 V388M472.5 386 V388M473.5 386 V388M474.5 386 V388M475.5 386 V388M476.5 386 V389M477.5 386 V388M478.5 382 V386M479.5 383 V388M480.5 388 V390M481.5 387 V389M482.5 388 V391M483.5 385 V389M484.5 385 V389M485.5 389 V392M486.5 392 V395M487.5 394 V396M488.5 394 V396M489.5 393 V395M490.5 392 V394M491.5 393 V395M492.5 392 V394M493.5 391 V395M494.5 390 V392M495.5 389 V391M496.5 388 V390M497.5 383 V388M498.5 378 V383M499.5 375 V378M500.5 375 V377M501.5 375 V377M502.5 376 V379M503.5 378 V381M504.5 377 V379M505.5 379 V381M506.5 380 V382M507.5 379 V381M508.5 380 V382M509.5 381 V383M510.5 379 V384M511.5 383 V385M512.5 384 V387M513.5 387 V389M514.5 388 V390M515.5 389 V391M516.5 390 V392M517.5 390 V392M518.5 390 V392M519.5 391 V394M520.5 394 V396M521.5 394 V396M522.5 392 V395M523.5 393 V396M524.5 394 V398M525.5 396 V398M526.5 396 V398M527.5 397 V399M528.5 397 V399M529.5 395 V397M530.5 395 V398M531.5 385 V387M532.5 385 V387M533.5 387 V391M534.5 388 V392M535.5 391 V393M536.5 392 V394M537.5 391 V393M538.5 391 V393M539.5 391 V394M540.5 394 V396M541.5 393 V396M542.5 396 V399M543.5 399 V402M544.5 400 V402M545.5 399 V401M546.5 399 V401M547.5 396 V399M548.5 396 V398M549.5 396 V399M550.5 396 V400M551.5 396 V398M552.5 395 V397M553.5 395 V397M554.5 395 V397M555.5 395 V397M556.5 396 V398M557.5 395 V399M558.5 394 V397M559.5 397 V399M560.5 399 V401M561.5 399 V401M562.5 400 V402M563.5 402 V405M564.5 402 V404M565.5 402 V404M566.5 402 V404M567.5 402 V404M568.5 400 V402M569.5 401 V403M570.5 401 V403M571.5 402 V404M572.5 402 V404M573.5 401 V403M574.5 399 V401M575.5 399 V401M576.5 400 V403M577.5 399 V402M578.5 399 V401M579.5 399 V401M580.5 400 V403M581.5 401 V403M582.5 402 V404M583.5 403 V405M584.5 403 V405M585.5 403 V405M586.5 402 V404M587.5 402 V404M588.5 402 V404M589.5 402 V404M590.5 402 V404M591.5 400 V402M592.5 402 V404M593.5 403 V405M594.5 404 V406M595.5 403 V405M596.5 394 V397M597.5 397 V403M598.5 403 V405M599.5 403 V405M600.5 402 V404M601.5 400 V403M602.5 403 V405M603.5 401 V404M604.5 398 V402M606.5 380 V387M607.5 374 V380M608.5 368 V374M609.5 364 V368M610.5 364 V368M611.5 367 V370M612.5 370 V374M613.5 373 V375M614.5 372 V376M615.5 375 V377M616.5 375 V378M617.5 377 V380M618.5 378 V380M619.5 379 V381M620.5 379 V381M621.5 377 V380M622.5 379 V381M623.5 379 V381M624.5 380 V382M625.5 377 V380M626.5 376 V379M627.5 374 V379M628.5 374 V379M629.5 379 V382M630.5 382 V385M631.5 384 V387M632.5 383 V385M633.5 385 V387M634.5 384 V388M635.5 383 V386M636.5 384 V387M637.5 383 V385"/></g>
<g stroke="#000">
<g role="img" aria-label="LYRA short-wavelength channels (1 minute averages)"><title>LYRA short-wavelength channels (1 minute averages)</title><path d="M120.5 6.5 120.5 17.5M120.5 17.5 126.5 17.5M127.5 6.5 131.5 11.5 131.5 17.5M136.5 6.5 131.5 11.5M138.5 6.5 138.5 17.5M138.5 6.5 143.5 6.5 145.5 6.5 145.5 7.5 146.5 8.5 146.5 9.5 145.5 10.5 145.5 11.5 143.5 11.5 138.5 11.5M142.5 11.5 146.5 17.5M152.5 6.5 148.5 17.5M152.5 6.5 156.5 17.5M149.5 13.5 155.5 13.5M172.5 11.5 172.5 10.5 170.5 10.5 169.5 10.5 167.5 10.5 167.5 11.5 167.5 12.5 168.5 13.5 171.5 13.5 172.5 14.5 172.5 15.5 172.5 16.5 170.5 17.5 169.5 17.5 167.5 16.5 167.5 15.5M176.5 6.5 176.5 17.5M176.5 12.5 178.5 10.5 179.5 10.5 180.5 10.5 181.5 10.5 182.5 12.5 182.5 17.5M188.5 10.5 187.5 10.5 186.5 11.5 186.5 13.5 186.5 14.5 186.5 15.5 187.5 16.5 188.5 17.5 190.5 17.5 191.5 16.5 192.5 15.5 192.5 14.5 192.5 13.5 192.5 11.5 191.5 10.5 190.5 10.5 188.5 10.5M196.5 10.5 196.5 17.5M196.5 13.5 197.5 11.5 198.5 10.5 199.5 10.5 200.5 10.5M203.5 6.5 203.5 15.5 204.5 16.5 205.5 17.5 206.5 17.5M202.5 10.5 206.5 10.5M209.5 12.5 219.5 12.5M222.5 10.5 224.5 17.5M227.5 10.5 224.5 17.5M227.5 10.5 229.5 17.5M231.5 10.5 229.5 17.5M240.5 10.5 240.5 17.5M240.5 11.5 239.5 10.5 238.5 10.5 237.5 10.5 236.5 10.5 234.5 11.5 234.5 13.5 234.5 14.5 234.5 15.5 236.5 16.5 237.5 17.5 238.5 17.5 239.5 16.5 240.5 15.5M243.5 10.5 247.5 17.5M250.5 10.5 247.5 17.5M252.5 13.5 259.5 13.5 259.5 12.5 258.5 11.5 258.5 10.5 257.5 10.5 255.5 10.5 254.5 10.5 253.5 11.5 252.5 13.5 252.5 14.5 253.5 15.5 254.5 16.5 255.5 17.5 257.5 17.5 258.5 16.5 259.5 15.5M262.5 6.5 262.5 17.5M266.5 13.5 272.5 13.5 272.5 12.5 272.5 11.5 271.5 10.5 270.5 10.5 269.5 10.5 268.5 10.5 267.5 11.5 266.5 13.5 266.5 14.5 267.5 15.5 268.5 16.5 269.5 17.5 270.5 17.5 271.5 16.5 272.5 15.5M276.5 10.5 276.5 17.5M276.5 12.5 278.5 10.5 279.5 10.5 280.5 10.5 281.5 10.5 282.5 12.5 282.5 17.5M292.5 10.5 292.5 18.5 291.5 20.5 290.5 21.5 288.5 21.5 287.5 20.5M292.5 11.5 291.5 10.5 290.5 10.5 288.5 10.5 287.5 10.5 286.5 11.5 286.5 13.5 286.5 14.5 286.5 15.5 287.5 16.5 288.5 17.5 290.5 17.5 291.5 16.5 292.5 15.5M297.5 6.5 297.5 15.5 297.5 16.5 298.5 17.5 299.5 17.5M295.5 10.5 299.5 10.5M302.5 6.5 302.5 17.5M302.5 12.5 304.5 10.5 305.5 10.5 307.5 10.5 308.5 10.5 308.5 12.5 308.5 17.5M327.5 11.5 325.5 10.5 324.5 10.5 323.5 10.5 322.5 10.5 321.5 11.5 320.5 13.5 320.5 14.5 321.5 15.5 322.5 16.5 323.5 17.5 324.5 17.5 325.5 16.5 327.5 15.5M330.5 6.5 330.5 17.5M330.5 12.5 332.5 10.5 333.5 10.5 334.5 10.5 335.5 10.5 336.5 12.5 336.5 17.5M346.5 10.5 346.5 17.5M346.5 11.5 345.5 10.5 344.5 10.5 342.5 10.5 341.5 10.5 340.5 11.5 340.5 13.5 340.5 14.5 340.5 15.5 341.5 16.5 342.5 17.5 344.5 17.5 345.5 16.5 346.5 15.5M350.5 10.5 350.5 17.5M350.5 12.5 352.5 10.5 353.5 10.5 354.5 10.5 355.5 10.5 356.5 12.5 356.5 17.5M360.5 10.5 360.5 17.5M360.5 12.5 362.5 10.5 363.5 10.5 364.5 10.5 365.5 10.5 366.5 12.5 366.5 17.5M370.5 13.5 376.5 13.5 376.5 12.5 375.5 11.5 375.5 10.5 374.5 10.5 372.5 10.5 371.5 10.5 370.5 11.5 370.5 13.5 370.5 14.5 370.5 15.5 371.5 16.5 372.5 17.5 374.5 17.5 375.5 16.5 376.5 15.5M380.5 6.5 380.5 17.5M389.5 11.5 389.5 10.5 387.5 10.5 385.5 10.5 384.5 10.5 383.5 11.5 384.5 12.5 385.5 13.5 388.5 13.5 389.5 14.5 389.5 15.5 389.5 16.5 387.5 17.5 385.5 17.5 384.5 16.5 383.5 15.5M405.5 4.5 404.5 5.5 403.5 6.5 402.5 9.5 401.5 11.5 401.5 13.5 402.5 16.5 403.5 18.5 404.5 20.5 405.5 21.5M410.5 8.5 411.5 8.5 412.5 6.5 412.5 17.5M428.5 10.5 428.5 17.5M428.5 12.5 429.5 10.5 430.5 10.5 432.5 10.5 433.5 10.5 433.5 12.5 433.5 17.5M433.5 12.5 435.5 10.5 436.5 10.5 438.5 10.5 439.5 10.5 439.5 12.5 439.5 17.5M443.5 6.5 444.5 6.5 443.5 5.5 443.5 6.5M443.5 10.5 443.5 17.5M448.5 10.5 448.5 17.5M448.5 12.5 449.5 10.5 450.5 10.5 452.5 10.5 453.5 10.5 453.5 12.5 453.5 17.5M458.5 10.5 458.5 15.5 458.5 16.5 459.5 17.5 461.5 17.5 462.5 16.5 463.5 15.5M463.5 10.5 463.5 17.5M468.5 6.5 468.5 15.5 469.5 16.5 470.5 17.5 471.5 17.5M466.5 10.5 470.5 10.5M473.5 13.5 480.5 13.5 480.5 12.5 479.5 11.5 479.5 10.5 478.5 10.5 476.5 10.5 475.5 10.5 474.5 11.5 473.5 13.5 473.5 14.5 474.5 15.5 475.5 16.5 476.5 17.5 478.5 17.5 479.5 16.5 480.5 15.5M497.5 10.5 497.5 17.5M497.5 11.5 496.5 10.5 495.5 10.5 494.5 10.5 493.5 10.5 492.5 11.5 491.5 13.5 491.5 14.5 492.5 15.5 493.5 16.5 494.5 17.5 495.5 17.5 496.5 16.5 497.5 15.5M501.5 10.5 504.5 17.5M507.5 10.5 504.5 17.5M510.5 13.5 516.5 13.5 516.5 12.5 515.5 11.5 515.5 10.5 514.5 10.5 512.5 10.5 511.5 10.5 510.5 11.5 510.5 13.5 510.5 14.5 510.5 15.5 511.5 16.5 512.5 17.5 514.5 17.5 515.5 16.5 516.5 15.5M520.5 10.5 520.5 17.5M520.5 13.5 520.5 11.5 521.5 10.5 522.5 10.5 524.5 10.5M532.5 10.5 532.5 17.5M532.5 11.5 531.5 10.5 530.5 10.5 529.5 10.5 527.5 10.5 526.5 11.5 526.5 13.5 526.5 14.5 526.5 15.5 527.5 16.5 529.5 17.5 530.5 17.5 531.5 16.5 532.5 15.5M542.5 10.5 542.5 18.5 542.5 20.5 541.5 20.5 540.5 21.5 539.5 21.5 537.5 20.5M542.5 11.5 541.5 10.5 540.5 10.5 539.5 10.5 537.5 10.5 536.5 11.5 536.5 13.5 536.5 14.5 536.5 15.5 537.5 16.5 539.5 17.5 540.5 17.5 541.5 16.5 542.5 15.5M546.5 13.5 552.5 13.5 552.5 12.5 552.5 11.5 551.5 10.5 550.5 10.5 549.5 10.5 547.5 10.5 546.5 11.5 546.5 13.5 546.5 14.5 546.5 15.5 547.5 16.5 549.5 17.5 550.5 17.5 551.5 16.5 552.5 15.5M561.5 11.5 561.5 10.5 559.5 10.5 557.5 10.5 556.5 10.5 555.5 11.5 556.5 12.5 557.5 13.5 560.5 13.5 561.5 14.5 561.5 15.5 561.5 16.5 559.5 17.5 557.5 17.5 556.5 16.5 555.5 15.5M564.5 4.5 565.5 5.5 566.5 6.5 567.5 9.5 568.5 11.5 568.5 13.5 567.5 16.5 566.5 18.5 565.5 20.5 564.5 21.5"/></g>
<g role="img" aria-label="2.7"><title>2.7</title><path d="M33.5 46.5 33.5 45.5 34.5 44.5 36.5 44.5 37.5 45.5 37.5 46.5 37.5 47.5 36.5 48.5 33.5 51.5 37.5 51.5M40.5 50.5 40.5 51.5 40.5 50.5M47.5 44.5 44.5 51.5M43.5 44.5 47.5 44.5"/></g>
<g role="img" aria-label="2.6"><title>2.6</title><path d="M33.5 90.5 33.5 89.5 34.5 88.5 36.5 88.5 37.5 89.5 37.5 90.5 37.5 91.5 36.5 92.5 33.5 95.5 37.5 95.5M40.5 94.5 40.5 95.5 40.5 94.5M47.5 89.5 47.5 88.5 46.5 88.5 45.5 88.5 44.5 88.5 43.5 89.5 43.5 91.5 43.5 93.5 43.5 94.5 44.5 95.5 45.5 95.5 46.5 95.5 47.5 94.5 47.5 93.5 47.5 92.5 46.5 91.5 45.5 91.5 44.5 91.5 43.5 92.5 43.5 93.5"/></g>
<g role="img" aria-label="2.5"><title>2.5</title><path d="M33.5 133.5 33.5 132.5 34.5 131.5 36.5 131.5 37.5 132.5 37.5 133.5 37.5 134.5 36.5 135.5 33.5 138.5 37.5 138.5M40.5 137.5 40.5 138.5 40.5 137.5M47.5 131.5 43.5 131.5 43.5 134.5 44.5 133.5 45.5 133.5 46.5 134.5 47.5 134.5 47.5 135.5 47.5 136.5 47.5 137.5 46.5 138.5 45.5 138.5 44.5 138.5 43.5 138.5 43.5 137.5"/></g>
<g role="img" aria-label="2.4"><title>2.4</title><path d="M33.5 176.5 33.5 175.5 34.5 174.5 36.5 174.5 37.5 175.5 37.5 176.5 37.5 177.5 36.5 178.5 33.5 181.5 37.5 181.5M40.5 180.5 40.5 181.5 40.5 180.5M46.5 174.5 43.5 179.5 48.5 179.5M46.5 174.5 46.5 181.5"/></g>
<g role="img" aria-label="2.3"><title>2.3</title><path d="M33.5 219.5 33.5 218.5 34.5 217.5 36.5 217.5 37.5 218.5 37.5 219.5 37.5 220.5 36.5 221.5 33.5 224.5 37.5 224.5M40.5 223.5 40.5 224.5 40.5 223.5M43.5 217.5 47.5 217.5 45.5 220.5 46.5 220.5 47.5 220.5 47.5 221.5 47.5 222.5 47.5 223.5 46.5 224.5 45.5 224.5 44.5 224.5 43.5 224.5 43.5 223.5"/></g>
<g role="img" aria-label="1.30"><title>1.30</title><path d="M27.5 239.5 28.5 238.5 28.5 245.5M33.5 244.5 33.5 245.5 34.5 245.5 33.5 244.5M37.5 238.5 40.5 238.5 38.5 241.5 39.5 241.5 40.5 241.5 41.5 242.5 41.5 243.5 40.5 244.5 40.5 245.5 39.5 245.5 38.5 245.5 37.5 245.5 36.5 244.5M45.5 238.5 44.5 238.5 43.5 239.5 43.5 241.5 43.5 242.5 43.5 244.5 44.5 245.5 45.5 245.5 46.5 245.5 47.5 244.5 47.5 242.5 47.5 241.5 47.5 239.5 46.5 238.5 45.5 238.5"/></g>
<g role="img" aria-label="1.25"><title>1.25</title><path d="M27.5 271.5 28.5 270.5 28.5 277.5M33.5 276.5 33.5 277.5 34.5 277.5 33.5 276.5M36.5 272.5 36.5 271.5 37.5 271.5 37.5 270.5 38.5 270.5 39.5 270.5 40.5 270.5 40.5 271.5 40.5 272.5 40.5 273.5 39.5 274.5 36.5 277.5 41.5 277.5M47.5 270.5 43.5 270.5 43.5 273.5 44.5 272.5 45.5 272.5 46.5 273.5 47.5 273.5 47.5 274.5 47.5 275.5 47.5 276.5 46.5 277.5 45.5 277.5 44.5 277.5 43.5 277.5 43.5 276.5"/></g>
<g role="img" aria-label="1.20"><title>1.20</title><path d="M27.5 302.5 28.5 301.5 28.5 308.5M33.5 307.5 33.5 308.5 34.5 308.5 33.5 307.5M36.5 303.5 36.5 302.5 37.5 302.5 37.5 301.5 38.5 301.5 39.5 301.5 40.5 301.5 40.5 302.5 40.5 303.5 40.5 304.5 39.5 305.5 36.5 308.5 41.5 308.5M45.5 301.5 44.5 301.5 43.5 302.5 43.5 304.5 43.5 305.5 43.5 307.5 44.5 308.5 45.5 308.5 46.5 308.5 47.5 307.5 47.5 305.5 47.5 304.5 47.5 302.5 46.5 301.5 45.5 301.5"/></g>
<g role="img" aria-label="1.15"><title>1.15</title><path d="M27.5 334.5 28.5 333.5 28.5 340.5M33.5 339.5 33.5 340.5 34.5 340.5 33.5 339.5M37.5 334.5 38.5 334.5 39.5 333.5 39.5 340.5M47.5 333.5 43.5 333.5 43.5 336.5 44.5 335.5 45.5 335.5 46.5 336.5 47.5 336.5 47.5 337.5 47.5 338.5 47.5 339.5 46.5 340.5 45.5 340.5 44.5 340.5 43.5 340.5 43.5 339.5"/></g>
<g role="img" aria-label="1.10"><title>1.10</title><path d="M27.5 365.5 28.5 364.5 28.5 371.5M33.5 370.5 33.5 371.5 34.5 371.5 33.5 370.5M37.5 365.5 38.5 365.5 39.5 364.5 39.5 371.5M45.5 364.5 44.5 364.5 43.5 365.5 43.5 367.5 43.5 368.5 43.5 370.5 44.5 371.5 45.5 371.5 46.5 371.5 47.5 370.5 47.5 368.5 47.5 367.5 47.5 365.5 46.5 364.5 45.5 364.5"/></g>
<g role="img" aria-label="1.05"><title>1.05</title><path d="M27.5 397.5 28.5 396.5 28.5 403.5M33.5 402.5 33.5 403.5 34.5 403.5 33.5 402.5M38.5 396.5 37.5 396.5 36.5 397.5 36.5 399.5 36.5 400.5 36.5 402.5 37.5 403.5 38.5 403.5 39.5 403.5 40.5 403.5 40.5 402.5 41.5 400.5 41.5 399.5 40.5 397.5 40.5 396.5 39.5 396.5 38.5 396.5M47.5 396.5 43.5 396.5 43.5 399.5 44.5 398.5 45.5 398.5 46.5 399.5 47.5 399.5 47.5 400.5 47.5 401.5 47.5 402.5 46.5 403.5 45.5 403.5 44.5 403.5 43.5 403.5 43.5 402.5"/></g>
<g role="img" aria-label="1.00"><title>1.00</title><path d="M27.5 428.5 28.5 427.5 28.5 434.5M33.5 433.5 33.5 434.5 34.5 434.5 33.5 433.5M38.5 427.5 37.5 427.5 36.5 428.5 36.5 430.5 36.5 431.5 36.5 433.5 37.5 434.5 38.5 434.5 39.5 434.5 40.5 434.5 40.5 433.5 41.5 431.5 41.5 430.5 40.5 428.5 40.5 427.5 39.5 427.5 38.5 427.5M45.5 427.5 44.5 427.5 43.5 428.5 43.5 430.5 43.5 431.5 43.5 433.5 44.5 434.5 45.5 434.5 46.5 434.5 47.5 433.5 47.5 431.5 47.5 430.5 47.5 428.5 46.5 427.5 45.5 427.5"/></g>
<g role="img" aria-label="0"><title>0</title><path d="M51.5 453.5 50.5 454.5 49.5 455.5 49.5 457.5 49.5 458.5 49.5 460.5 50.5 462.5 51.5 462.5 52.5 462.5 53.5 462.5 54.5 460.5 55.5 458.5 55.5 457.5 54.5 455.5 53.5 454.5 52.5 453.5 51.5 453.5"/></g>
<g role="img" aria-label="5"><title>5</title><path d="M95.5 453.5 90.5 453.5 90.5 457.5 92.5 456.5 93.5 456.5 94.5 457.5 95.5 457.5 95.5 459.5 95.5 461.5 94.5 462.5 93.5 462.5 92.5 462.5 90.5 462.5 90.5 461.5 89.5 460.5"/></g>
<g role="img" aria-label="10"><title>10</title><path d="M127.5 455.5 128.5 454.5 129.5 453.5 129.5 462.5M137.5 453.5 136.5 454.5 135.5 455.5 134.5 457.5 134.5 458.5 135.5 460.5 136.5 462.5 137.5 462.5 138.5 462.5 139.5 462.5 140.5 460.5 140.5 458.5 140.5 457.5 140.5 455.5 139.5 454.5 138.5 453.5 137.5 453.5"/></g>
<g role="img" aria-label="15"><title>15</title><path d="M168.5 455.5 169.5 454.5 170.5 453.5 170.5 462.5M180.5 453.5 176.5 453.5 175.5 457.5 176.5 457.5 177.5 456.5 178.5 456.5 180.5 457.5 181.5 459.5 180.5 461.5 180.5 462.5 178.5 462.5 177.5 462.5 176.5 462.5 175.5 461.5 175.5 460.5"/></g>
<g role="img" aria-label="20"><title>20</title><path d="M208.5 455.5 208.5 454.5 209.5 453.5 211.5 453.5 212.5 454.5 213.5 455.5 213.5 456.5 212.5 457.5 211.5 458.5 207.5 462.5 213.5 462.5M218.5 453.5 217.5 454.5 216.5 455.5 216.5 457.5 216.5 458.5 216.5 460.5 217.5 462.5 218.5 462.5 219.5 462.5 220.5 462.5 221.5 460.5 221.5 458.5 221.5 457.5 221.5 455.5 220.5 454.5 219.5 453.5 218.5 453.5"/></g>
<g role="img" aria-label="0"><title>0</title><path d="M246.5 453.5 245.5 454.5 244.5 455.5 244.5 457.5 244.5 458.5 244.5 460.5 245.5 462.5 246.5 462.5 247.5 462.5 248.5 462.5 249.5 460.5 250.5 458.5 250.5 457.5 249.5 455.5 248.5 454.5 247.5 453.5 246.5 453.5"/></g>
<g role="img" aria-label="5"><title>5</title><path d="M290.5 453.5 285.5 453.5 285.5 457.5 287.5 456.5 288.5 456.5 289.5 457.5 290.5 457.5 290.5 459.5 290.5 461.5 289.5 462.5 288.5 462.5 287.5 462.5 285.5 462.5 285.5 461.5 284.5 460.5"/></g>
<g role="img" aria-label="10"><title>10</title><path d="M322.5 455.5 323.5 454.5 324.5 453.5 324.5 462.5M332.5 453.5 331.5 454.5 330.5 455.5 329.5 457.5 329.5 458.5 330.5 460.5 331.5 462.5 332.5 462.5 333.5 462.5 334.5 462.5 335.5 460.5 335.5 458.5 335.5 457.5 335.5 455.5 334.5 454.5 333.5 453.5 332.5 453.5"/></g>
<g role="img" aria-label="15"><title>15</title><path d="M363.5 455.5 364.5 454.5 365.5 453.5 365.5 462.5M375.5 453.5 371.5 453.5 370.5 457.5 371.5 457.5 372.5 456.5 373.5 456.5 375.5 457.5 376.5 459.5 375.5 461.5 375.5 462.5 373.5 462.5 372.5 462.5 371.5 462.5 370.5 461.5 370.5 460.5"/></g>
<g role="img" aria-label="20"><title>20</title><path d="M403.5 455.5 403.5 454.5 404.5 453.5 406.5 453.5 407.5 454.5 408.5 455.5 408.5 456.5 407.5 457.5 406.5 458.5 402.5 462.5 408.5 462.5M413.5 453.5 412.5 454.5 411.5 455.5 411.5 457.5 411.5 458.5 411.5 460.5 412.5 462.5 413.5 462.5 414.5 462.5 415.5 462.5 416.5 460.5 416.5 458.5 416.5 457.5 416.5 455.5 415.5 454.5 414.5 453.5 413.5 453.5"/></g>
<g role="img" aria-label="0"><title>0</title><path d="M441.5 453.5 440.5 454.5 439.5 455.5 439.5 457.5 439.5 458.5 439.5 460.5 440.5 462.5 441.5 462.5 442.5 462.5 443.5 462.5 444.5 460.5 445.5 458.5 445.5 457.5 444.5 455.5 443.5 454.5 442.5 453.5 441.5 453.5"/></g>
<g role="img" aria-label="5"><title>5</title><path d="M485.5 453.5 480.5 453.5 480.5 457.5 482.5 456.5 483.5 456.5 484.5 457.5 485.5 457.5 485.5 459.5 485.5 461.5 484.5 462.5 483.5 462.5 482.5 462.5 480.5 462.5 480.5 461.5 479.5 460.5"/></g>
<g role="img" aria-label="10"><title>10</title><path d="M517.5 455.5 518.5 454.5 519.5 453.5 519.5 462.5M527.5 453.5 526.5 454.5 525.5 455.5 524.5 457.5 524.5 458.5 525.5 460.5 526.5 462.5 527.5 462.5 528.5 462.5 529.5 462.5 530.5 460.5 530.5 458.5 530.5 457.5 530.5 455.5 529.5 454.5 528.5 453.5 527.5 453.5"/></g>
<g role="img" aria-label="15"><title>15</title><path d="M558.5 455.5 559.5 454.5 560.5 453.5 560.5 462.5M570.5 453.5 566.5 453.5 565.5 457.5 566.5 457.5 567.5 456.5 568.5 456.5 570.5 457.5 571.5 459.5 570.5 461.5 570.5 462.5 568.5 462.5 567.5 462.5 566.5 462.5 565.5 461.5 565.5 460.5"/></g>
<g role="img" aria-label="20"><title>20</title><path d="M598.5 455.5 598.5 454.5 599.5 453.5 601.5 453.5 602.5 454.5 603.5 455.5 603.5 456.5 602.5 457.5 601.5 458.5 597.5 462.5 603.5 462.5M608.5 453.5 607.5 454.5 606.5 455.5 606.5 457.5 606.5 458.5 606.5 460.5 607.5 462.5 608.5 462.5 609.5 462.5 610.5 462.5 611.5 460.5 611.5 458.5 611.5 457.5 611.5 455.5 610.5 454.5 609.5 453.5 608.5 453.5"/></g>
<g role="img" aria-label="Time / h UTC, 08 Mar 2025"><title>Time / h UTC, 08 Mar 2025</title><path d="M57.5 469.5 57.5 478.5M54.5 469.5 60.5 469.5M62.5 469.5 62.5 470.5 63.5 469.5 62.5 469.5M62.5 472.5 62.5 478.5M66.5 472.5 66.5 478.5M66.5 474.5 67.5 473.5 68.5 472.5 69.5 472.5 70.5 473.5 70.5 474.5 70.5 478.5M70.5 474.5 72.5 473.5 72.5 472.5 74.5 472.5 75.5 473.5 75.5 474.5 75.5 478.5M78.5 475.5 83.5 475.5 83.5 474.5 83.5 473.5 82.5 473.5 81.5 472.5 80.5 472.5 79.5 473.5 78.5 473.5 78.5 475.5 78.5 477.5 79.5 478.5 80.5 478.5 81.5 478.5 82.5 478.5 83.5 477.5M99.5 468.5 92.5 481.5M109.5 469.5 109.5 478.5M109.5 474.5 110.5 473.5 111.5 472.5 112.5 472.5 113.5 473.5 113.5 474.5 113.5 478.5M123.5 469.5 123.5 475.5 124.5 477.5 125.5 478.5 126.5 478.5 127.5 478.5 128.5 478.5 129.5 477.5 129.5 475.5 129.5 469.5M134.5 469.5 134.5 478.5M131.5 469.5 137.5 469.5M145.5 471.5 145.5 470.5 144.5 470.5 143.5 469.5 141.5 469.5 140.5 470.5 139.5 471.5 139.5 473.5 139.5 475.5 139.5 476.5 140.5 477.5 140.5 478.5 141.5 478.5 143.5 478.5 144.5 478.5 145.5 477.5 145.5 476.5M148.5 478.5 148.5 477.5 149.5 478.5 148.5 479.5 148.5 480.5M161.5 469.5 160.5 470.5 159.5 471.5 159.5 473.5 159.5 474.5 159.5 476.5 160.5 478.5 161.5 478.5 162.5 478.5 163.5 478.5 164.5 476.5 164.5 474.5 164.5 473.5 164.5 471.5 163.5 470.5 162.5 469.5 161.5 469.5M169.5 469.5 168.5 470.5 167.5 470.5 167.5 471.5 168.5 472.5 169.5 473.5 170.5 473.5 172.5 473.5 172.5 474.5 173.5 475.5 173.5 476.5 172.5 477.5 172.5 478.5 171.5 478.5 169.5 478.5 168.5 478.5 167.5 477.5 167.5 476.5 167.5 475.5 167.5 474.5 168.5 473.5 169.5 473.5 171.5 473.5 172.5 472.5 172.5 471.5 172.5 470.5 171.5 469.5 169.5 469.5M182.5 469.5 182.5 478.5M182.5 469.5 186.5 478.5M189.5 469.5 186.5 478.5M189.5 469.5 189.5 478.5M197.5 472.5 197.5 478.5M197.5 473.5 196.5 473.5 196.5 472.5 194.5 472.5 193.5 473.5 192.5 475.5 193.5 477.5 193.5 478.5 194.5 478.5 196.5 478.5 197.5 477.5M201.5 472.5 201.5 478.5M201.5 475.5 201.5 473.5 202.5 473.5 203.5 472.5 204.5 472.5M213.5 471.5 213.5 470.5 214.5 470.5 214.5 469.5 216.5 469.5 217.5 470.5 218.5 471.5 218.5 472.5 217.5 473.5 217.5 474.5 212.5 478.5 218.5 478.5M223.5 469.5 222.5 470.5 221.5 471.5 221.5 473.5 221.5 474.5 221.5 476.5 222.5 478.5 223.5 478.5 224.5 478.5 225.5 478.5 226.5 476.5 227.5 474.5 227.5 473.5 226.5 471.5 225.5 470.5 224.5 469.5 223.5 469.5M230.5 471.5 230.5 470.5 231.5 469.5 233.5 469.5 234.5 470.5 235.5 471.5 235.5 472.5 234.5 473.5 233.5 474.5 229.5 478.5 235.5 478.5M243.5 469.5 238.5 469.5 238.5 473.5 240.5 472.5 241.5 472.5 242.5 473.5 243.5 473.5 243.5 475.5 243.5 477.5 242.5 478.5 241.5 478.5 240.5 478.5 238.5 478.5 238.5 477.5 238.5 476.5"/></g>
<g role="img" aria-label="09 Mar 2025"><title>09 Mar 2025</title><path d="M305.5 469.5 304.5 470.5 303.5 471.5 302.5 473.5 302.5 474.5 303.5 476.5 304.5 478.5 305.5 478.5 306.5 478.5 307.5 478.5 308.5 476.5 308.5 474.5 308.5 473.5 308.5 471.5 307.5 470.5 306.5 469.5 305.5 469.5M316.5 472.5 316.5 473.5 315.5 474.5 314.5 475.5 313.5 475.5 312.5 474.5 311.5 473.5 311.5 472.5 311.5 470.5 312.5 470.5 313.5 469.5 314.5 469.5 315.5 470.5 316.5 470.5 316.5 472.5 316.5 474.5 316.5 476.5 315.5 478.5 314.5 478.5 313.5 478.5 312.5 478.5 311.5 477.5M326.5 469.5 326.5 478.5M326.5 469.5 330.5 478.5M333.5 469.5 330.5 478.5M333.5 469.5 333.5 478.5M341.5 472.5 341.5 478.5M341.5 473.5 340.5 473.5 339.5 472.5 338.5 472.5 337.5 473.5 336.5 473.5 336.5 475.5 336.5 477.5 337.5 478.5 338.5 478.5 339.5 478.5 340.5 478.5 341.5 477.5M344.5 472.5 344.5 478.5M344.5 475.5 345.5 473.5 346.5 473.5 346.5 472.5 348.5 472.5M357.5 471.5 357.5 470.5 358.5 469.5 360.5 469.5 361.5 470.5 362.5 471.5 362.5 472.5 361.5 473.5 360.5 474.5 356.5 478.5 362.5 478.5M367.5 469.5 366.5 470.5 365.5 471.5 365.5 473.5 365.5 474.5 365.5 476.5 366.5 478.5 367.5 478.5 368.5 478.5 369.5 478.5 370.5 476.5 370.5 474.5 370.5 473.5 370.5 471.5 369.5 470.5 368.5 469.5 367.5 469.5M373.5 471.5 374.5 470.5 375.5 469.5 377.5 469.5 378.5 470.5 378.5 471.5 378.5 472.5 378.5 473.5 377.5 474.5 373.5 478.5 379.5 478.5M386.5 469.5 382.5 469.5 382.5 473.5 383.5 472.5 385.5 472.5 386.5 473.5 387.5 473.5 387.5 475.5 387.5 477.5 386.5 478.5 385.5 478.5 383.5 478.5 382.5 478.5 382.5 477.5 381.5 476.5"/></g>
<g role="img" aria-label="10 Mar 2025"><title>10 Mar 2025</title><path d="M499.5 471.5 499.5 470.5 501.5 469.5 501.5 478.5M508.5 469.5 507.5 470.5 506.5 471.5 506.5 473.5 506.5 474.5 506.5 476.5 507.5 478.5 508.5 478.5 509.5 478.5 510.5 478.5 511.5 476.5 512.5 474.5 512.5 473.5 511.5 471.5 510.5 470.5 509.5 469.5 508.5 469.5M521.5 469.5 521.5 478.5M521.5 469.5 525.5 478.5M528.5 469.5 525.5 478.5M528.5 469.5 528.5 478.5M536.5 472.5 536.5 478.5M536.5 473.5 535.5 473.5 534.5 472.5 533.5 472.5 532.5 473.5 531.5 473.5 531.5 475.5 531.5 477.5 532.5 478.5 533.5 478.5 534.5 478.5 535.5 478.5 536.5 477.5M539.5 472.5 539.5 478.5M539.5 475.5 540.5 473.5 541.5 473.5 541.5 472.5 543.5 472.5M552.5 471.5 552.5 470.5 553.5 469.5 555.5 469.5 556.5 470.5 557.5 471.5 557.5 472.5 556.5 473.5 555.5 474.5 551.5 478.5 557.5 478.5M562.5 469.5 561.5 470.5 560.5 471.5 560.5 473.5 560.5 474.5 560.5 476.5 561.5 478.5 562.5 478.5 563.5 478.5 564.5 478.5 565.5 476.5 565.5 474.5 565.5 473.5 565.5 471.5 564.5 470.5 563.5 469.5 562.5 469.5M568.5 471.5 569.5 470.5 570.5 469.5 572.5 469.5 573.5 470.5 573.5 471.5 573.5 472.5 573.5 473.5 572.5 474.5 568.5 478.5 574.5 478.5M581.5 469.5 577.5 469.5 577.5 473.5 578.5 472.5 580.5 472.5 581.5 473.5 582.5 473.5 582.5 475.5 582.5 477.5 581.5 478.5 580.5 478.5 578.5 478.5 577.5 478.5 577.5 477.5 576.5 476.5"/></g>
<g role="img" aria-label="Calibrated Signal / (mW m-2)"><title>Calibrated Signal / (mW m-2)</title><path d="M17.5 203.5 16.5 204.5 15.5 204.5 15.5 205.5 15.5 206.5 15.5 207.5 16.5 208.5 17.5 208.5 18.5 208.5 19.5 208.5 20.5 208.5 21.5 208.5 22.5 207.5 22.5 206.5 22.5 205.5 22.5 204.5 21.5 204.5 20.5 203.5M17.5 197.5 22.5 197.5M18.5 197.5 18.5 198.5 17.5 199.5 17.5 200.5 18.5 200.5 18.5 201.5 19.5 201.5 20.5 201.5 21.5 201.5 22.5 200.5 22.5 199.5 22.5 198.5 21.5 197.5M15.5 195.5 22.5 195.5M15.5 192.5 15.5 192.5M17.5 192.5 22.5 192.5M15.5 189.5 22.5 189.5M18.5 189.5 17.5 188.5 17.5 187.5 18.5 186.5 19.5 185.5 20.5 185.5 21.5 186.5 22.5 186.5 22.5 187.5 22.5 188.5 22.5 189.5 21.5 189.5M17.5 183.5 22.5 183.5M19.5 183.5 18.5 183.5 18.5 182.5 17.5 181.5 17.5 180.5M17.5 175.5 22.5 175.5M18.5 175.5 17.5 176.5 17.5 177.5 18.5 178.5 19.5 179.5 20.5 179.5 21.5 178.5 22.5 178.5 22.5 177.5 22.5 176.5 22.5 175.5 21.5 175.5M15.5 172.5 21.5 172.5 22.5 171.5 22.5 170.5M17.5 173.5 17.5 170.5M19.5 168.5 19.5 164.5 18.5 165.5 17.5 166.5 17.5 167.5 18.5 167.5 18.5 168.5 19.5 168.5 20.5 168.5 21.5 168.5 22.5 167.5 22.5 166.5 22.5 165.5 21.5 164.5M15.5 158.5 22.5 158.5M18.5 158.5 18.5 159.5 17.5 160.5 17.5 161.5 18.5 161.5 18.5 162.5 19.5 162.5 20.5 162.5 21.5 162.5 22.5 161.5 22.5 160.5 22.5 159.5 21.5 158.5M16.5 146.5 15.5 147.5 15.5 148.5 15.5 149.5 15.5 150.5 16.5 151.5 17.5 151.5 17.5 150.5 18.5 150.5 18.5 149.5 19.5 147.5 19.5 146.5 20.5 146.5 21.5 146.5 22.5 147.5 22.5 148.5 22.5 149.5 22.5 150.5 21.5 151.5M15.5 144.5 15.5 143.5 15.5 144.5M17.5 144.5 22.5 144.5M17.5 137.5 23.5 137.5 24.5 137.5 24.5 138.5 24.5 139.5 24.5 140.5M18.5 137.5 18.5 138.5 17.5 138.5 17.5 139.5 18.5 140.5 18.5 141.5 19.5 141.5 20.5 141.5 21.5 141.5 22.5 140.5 22.5 139.5 22.5 138.5 21.5 137.5M17.5 134.5 22.5 134.5M19.5 134.5 18.5 133.5 17.5 133.5 17.5 132.5 18.5 131.5 19.5 131.5 22.5 131.5M17.5 124.5 22.5 124.5M18.5 124.5 18.5 125.5 17.5 126.5 17.5 127.5 18.5 127.5 18.5 128.5 19.5 128.5 20.5 128.5 21.5 128.5 22.5 127.5 22.5 126.5 22.5 125.5 21.5 124.5M15.5 122.5 22.5 122.5M14.5 108.5 24.5 114.5M14.5 99.5 15.5 100.5 17.5 101.5 18.5 101.5 20.5 101.5 21.5 101.5 23.5 100.5 24.5 99.5M17.5 96.5 22.5 96.5M19.5 96.5 18.5 95.5 17.5 94.5 17.5 93.5 18.5 93.5 19.5 92.5 22.5 92.5M19.5 92.5 18.5 91.5 17.5 91.5 17.5 90.5 18.5 89.5 19.5 89.5 22.5 89.5M15.5 87.5 22.5 85.5M15.5 83.5 22.5 85.5M15.5 83.5 22.5 82.5M15.5 80.5 22.5 82.5M17.5 73.5 22.5 73.5M19.5 73.5 18.5 72.5 17.5 71.5 17.5 70.5 18.5 69.5 19.5 69.5 22.5 69.5M19.5 69.5 18.5 68.5 17.5 67.5 17.5 66.5 18.5 66.5 19.5 65.5 22.5 65.5M16.5 63.5 16.5 59.5M14.5 58.5 14.5 57.5 13.5 57.5 13.5 56.5 14.5 55.5 15.5 55.5 16.5 56.5 18.5 58.5 18.5 55.5M14.5 53.5 15.5 52.5 17.5 51.5 18.5 51.5 20.5 51.5 21.5 51.5 23.5 52.5 24.5 53.5"/></g>
<g role="img" aria-label="Calibrated Signal / (mW m-2)"><title>Calibrated Signal / (mW m-2)</title><path d="M11.5 413.5 10.5 414.5 9.5 414.5 9.5 415.5 9.5 416.5 9.5 417.5 10.5 418.5 11.5 418.5 12.5 418.5 13.5 418.5 14.5 418.5 15.5 418.5 16.5 417.5 16.5 416.5 16.5 415.5 16.5 414.5 15.5 414.5 14.5 413.5M11.5 407.5 16.5 407.5M12.5 407.5 12.5 408.5 11.5 409.5 11.5 410.5 12.5 410.5 12.5 411.5 13.5 411.5 14.5 411.5 15.5 411.5 16.5 410.5 16.5 409.5 16.5 408.5 15.5 407.5M9.5 405.5 16.5 405.5M9.5 402.5 9.5 402.5M11.5 402.5 16.5 402.5M9.5 399.5 16.5 399.5M12.5 399.5 11.5 398.5 11.5 397.5 12.5 396.5 13.5 395.5 14.5 395.5 15.5 396.5 16.5 396.5 16.5 397.5 16.5 398.5 16.5 399.5 15.5 399.5M11.5 393.5 16.5 393.5M13.5 393.5 12.5 393.5 12.5 392.5 11.5 391.5 11.5 390.5M11.5 385.5 16.5 385.5M12.5 385.5 11.5 386.5 11.5 387.5 12.5 388.5 13.5 389.5 14.5 389.5 15.5 388.5 16.5 388.5 16.5 387.5 16.5 386.5 16.5 385.5 15.5 385.5M9.5 382.5 15.5 382.5 16.5 381.5 16.5 380.5M11.5 383.5 11.5 380.5M13.5 378.5 13.5 374.5 12.5 375.5 11.5 376.5 11.5 377.5 12.5 377.5 12.5 378.5 13.5 378.5 14.5 378.5 15.5 378.5 16.5 377.5 16.5 376.5 16.5 375.5 15.5 374.5M9.5 368.5 16.5 368.5M12.5 368.5 12.5 369.5 11.5 370.5 11.5 371.5 12.5 371.5 12.5 372.5 13.5 372.5 14.5 372.5 15.5 372.5 16.5 371.5 16.5 370.5 16.5 369.5 15.5 368.5M10.5 356.5 9.5 357.5 9.5 358.5 9.5 359.5 9.5 360.5 10.5 361.5 11.5 361.5 11.5 360.5 12.5 360.5 12.5 359.5 13.5 357.5 13.5 356.5 14.5 356.5 15.5 356.5 16.5 357.5 16.5 358.5 16.5 359.5 16.5 360.5 15.5 361.5M9.5 354.5 9.5 353.5 9.5 354.5M11.5 354.5 16.5 354.5M11.5 347.5 17.5 347.5 18.5 347.5 18.5 348.5 18.5 349.5 18.5 350.5M12.5 347.5 12.5 348.5 11.5 348.5 11.5 349.5 12.5 350.5 12.5 351.5 13.5 351.5 14.5 351.5 15.5 351.5 16.5 350.5 16.5 349.5 16.5 348.5 15.5 347.5M11.5 344.5 16.5 344.5M13.5 344.5 12.5 343.5 11.5 343.5 11.5 342.5 12.5 341.5 13.5 341.5 16.5 341.5M11.5 334.5 16.5 334.5M12.5 334.5 12.5 335.5 11.5 336.5 11.5 337.5 12.5 337.5 12.5 338.5 13.5 338.5 14.5 338.5 15.5 338.5 16.5 337.5 16.5 336.5 16.5 335.5 15.5 334.5M9.5 332.5 16.5 332.5M8.5 318.5 18.5 324.5M8.5 309.5 9.5 310.5 11.5 311.5 12.5 311.5 14.5 311.5 15.5 311.5 17.5 310.5 18.5 309.5M11.5 306.5 16.5 306.5M13.5 306.5 12.5 305.5 11.5 304.5 11.5 303.5 12.5 303.5 13.5 302.5 16.5 302.5M13.5 302.5 12.5 301.5 11.5 301.5 11.5 300.5 12.5 299.5 13.5 299.5 16.5 299.5M9.5 297.5 16.5 295.5M9.5 293.5 16.5 295.5M9.5 293.5 16.5 292.5M9.5 290.5 16.5 292.5M11.5 283.5 16.5 283.5M13.5 283.5 12.5 282.5 11.5 281.5 11.5 280.5 12.5 279.5 13.5 279.5 16.5 279.5M13.5 279.5 12.5 278.5 11.5 277.5 11.5 276.5 12.5 276.5 13.5 275.5 16.5 275.5M10.5 273.5 10.5 269.5M8.5 268.5 8.5 267.5 7.5 267.5 7.5 266.5 8.5 265.5 9.5 265.5 10.5 266.5 12.5 268.5 12.5 265.5M8.5 263.5 9.5 262.5 11.5 261.5 12.5 261.5 14.5 261.5 15.5 261.5 17.5 262.5 18.5 263.5"/></g>
<g role="img" aria-label="ROB/SIDC, Brussels, Belgium"><title>ROB/SIDC, Brussels, Belgium</title><path d="M489.5 487.5 489.5 494.5M489.5 487.5 492.5 487.5 493.5 487.5 494.5 488.5 494.5 489.5 494.5 490.5 493.5 490.5 492.5 490.5 489.5 490.5M492.5 490.5 494.5 494.5M498.5 487.5 497.5 487.5 497.5 488.5 496.5 489.5 496.5 490.5 496.5 491.5 496.5 492.5 497.5 493.5 497.5 494.5 498.5 494.5 499.5 494.5 500.5 494.5 501.5 493.5 501.5 492.5 501.5 491.5 501.5 490.5 501.5 489.5 501.5 488.5 500.5 487.5 499.5 487.5 498.5 487.5M504.5 487.5 504.5 494.5M504.5 487.5 507.5 487.5 508.5 487.5 508.5 488.5 508.5 489.5 508.5 490.5 507.5 490.5M504.5 490.5 507.5 490.5 508.5 491.5 508.5 492.5 508.5 493.5 508.5 494.5 507.5 494.5 504.5 494.5M516.5 486.5 510.5 496.5M522.5 488.5 522.5 487.5 521.5 487.5 519.5 487.5 518.5 487.5 518.5 488.5 518.5 489.5 518.5 490.5 519.5 490.5 521.5 491.5 522.5 491.5 522.5 492.5 522.5 493.5 522.5 494.5 521.5 494.5 519.5 494.5 518.5 494.5 518.5 493.5M525.5 487.5 525.5 494.5M527.5 487.5 527.5 494.5M527.5 487.5 530.5 487.5 531.5 487.5 531.5 488.5 532.5 489.5 532.5 490.5 532.5 491.5 532.5 492.5 531.5 493.5 531.5 494.5 530.5 494.5 527.5 494.5M539.5 489.5 539.5 488.5 538.5 487.5 536.5 487.5 535.5 488.5 535.5 489.5 534.5 490.5 534.5 491.5 535.5 492.5 535.5 493.5 536.5 494.5 538.5 494.5 539.5 493.5 539.5 492.5M542.5 494.5 542.5 493.5 542.5 494.5 542.5 495.5M550.5 487.5 550.5 494.5M550.5 487.5 553.5 487.5 554.5 487.5 555.5 488.5 555.5 489.5 555.5 490.5 554.5 490.5 553.5 490.5M550.5 490.5 553.5 490.5 554.5 491.5 555.5 491.5 555.5 492.5 555.5 493.5 554.5 494.5 553.5 494.5 550.5 494.5M557.5 489.5 557.5 494.5M557.5 491.5 558.5 490.5 559.5 489.5 560.5 489.5M562.5 489.5 562.5 493.5 562.5 494.5 563.5 494.5 564.5 494.5 565.5 493.5M565.5 489.5 565.5 494.5M571.5 490.5 570.5 489.5 569.5 489.5 568.5 490.5 568.5 491.5 569.5 491.5 570.5 492.5 571.5 492.5 571.5 493.5 571.5 494.5 570.5 494.5 569.5 494.5 568.5 494.5 568.5 493.5M577.5 490.5 576.5 489.5 575.5 489.5 574.5 490.5 573.5 490.5 574.5 491.5 576.5 492.5 577.5 492.5 577.5 493.5 577.5 494.5 576.5 494.5 575.5 494.5 574.5 494.5 573.5 493.5M579.5 491.5 583.5 491.5 583.5 490.5 582.5 489.5 581.5 489.5 580.5 490.5 579.5 491.5 579.5 492.5 580.5 493.5 580.5 494.5 581.5 494.5 582.5 494.5 583.5 494.5 583.5 493.5M586.5 487.5 586.5 494.5M592.5 490.5 591.5 490.5 590.5 489.5 589.5 489.5 588.5 490.5 588.5 491.5 589.5 491.5 591.5 492.5 592.5 493.5 591.5 494.5 590.5 494.5 589.5 494.5 588.5 494.5 588.5 493.5M594.5 494.5 594.5 493.5 595.5 494.5 594.5 495.5M603.5 487.5 603.5 494.5M603.5 487.5 606.5 487.5 607.5 487.5 607.5 488.5 607.5 489.5 607.5 490.5 606.5 490.5M603.5 490.5 606.5 490.5 607.5 491.5 607.5 492.5 607.5 493.5 607.5 494.5 606.5 494.5 603.5 494.5M609.5 491.5 613.5 491.5 613.5 490.5 612.5 489.5 611.5 489.5 610.5 490.5 609.5 491.5 609.5 492.5 610.5 493.5 610.5 494.5 611.5 494.5 612.5 494.5 613.5 494.5 613.5 493.5M616.5 487.5 616.5 494.5M622.5 489.5 622.5 495.5 622.5 496.5 621.5 496.5 620.5 496.5 619.5 496.5M622.5 490.5 621.5 489.5 620.5 489.5 619.5 490.5 618.5 491.5 618.5 492.5 619.5 493.5 619.5 494.5 620.5 494.5 621.5 494.5 622.5 494.5 622.5 493.5M625.5 487.5 625.5 487.5M625.5 489.5 625.5 494.5M628.5 489.5 628.5 493.5 628.5 494.5 629.5 494.5 630.5 494.5 631.5 493.5M631.5 489.5 631.5 494.5M634.5 489.5 634.5 494.5M634.5 491.5 635.5 490.5 636.5 489.5 637.5 489.5 637.5 490.5 638.5 491.5 638.5 494.5M638.5 491.5 639.5 490.5 639.5 489.5 640.5 489.5 641.5 490.5 641.5 491.5 641.5 494.5"/></g>
</g>
<g stroke="#0000ff">
<g role="img" aria-label="Channel 2-3"><title>Channel 2-3</title><path d="M72.5 32.5 72.5 31.5 71.5 31.5 70.5 30.5 68.5 30.5 67.5 31.5 66.5 32.5 66.5 34.5 66.5 36.5 66.5 37.5 67.5 38.5 67.5 39.5 68.5 39.5 70.5 39.5 71.5 39.5 72.5 38.5 72.5 37.5M75.5 30.5 75.5 39.5M75.5 35.5 76.5 34.5 77.5 33.5 78.5 33.5 79.5 34.5 80.5 35.5 80.5 39.5M88.5 33.5 88.5 39.5M88.5 34.5 87.5 34.5 86.5 33.5 85.5 33.5 84.5 34.5 83.5 34.5 82.5 36.5 83.5 38.5 84.5 39.5 85.5 39.5 86.5 39.5 87.5 39.5 88.5 38.5M91.5 33.5 91.5 39.5M91.5 35.5 92.5 34.5 93.5 33.5 94.5 33.5 95.5 34.5 95.5 35.5 95.5 39.5M99.5 33.5 99.5 39.5M99.5 35.5 100.5 34.5 101.5 33.5 102.5 33.5 103.5 34.5 103.5 35.5 103.5 39.5M106.5 36.5 111.5 36.5 111.5 35.5 111.5 34.5 110.5 33.5 109.5 33.5 108.5 34.5 107.5 34.5 106.5 36.5 107.5 38.5 108.5 39.5 109.5 39.5 110.5 39.5 111.5 39.5 111.5 38.5M114.5 30.5 114.5 39.5M124.5 32.5 125.5 31.5 126.5 30.5 128.5 30.5 129.5 31.5 130.5 32.5 130.5 33.5 129.5 34.5 128.5 35.5 124.5 39.5 130.5 39.5M133.5 35.5 140.5 35.5M144.5 30.5 149.5 30.5 146.5 34.5 148.5 34.5 149.5 34.5 149.5 36.5 149.5 38.5 148.5 39.5 147.5 39.5 145.5 39.5 144.5 39.5 144.5 38.5 143.5 37.5"/></g>
<g role="img" aria-label="Aluminium Filter"><title>Aluminium Filter</title><path d="M263.5 30.5 260.5 39.5M263.5 30.5 267.5 39.5M261.5 36.5 265.5 36.5M269.5 30.5 269.5 39.5M272.5 33.5 272.5 37.5 272.5 39.5 273.5 39.5 275.5 39.5 277.5 37.5M277.5 33.5 277.5 39.5M280.5 33.5 280.5 39.5M280.5 35.5 281.5 34.5 282.5 33.5 283.5 33.5 284.5 34.5 285.5 35.5 285.5 39.5M285.5 35.5 286.5 34.5 287.5 33.5 288.5 33.5 289.5 34.5 289.5 35.5 289.5 39.5M292.5 30.5 293.5 31.5 293.5 30.5 292.5 30.5M293.5 33.5 293.5 39.5M296.5 33.5 296.5 39.5M296.5 35.5 297.5 34.5 298.5 33.5 299.5 33.5 300.5 34.5 301.5 35.5 301.5 39.5M304.5 30.5 304.5 31.5 304.5 30.5M304.5 33.5 304.5 39.5M307.5 33.5 307.5 37.5 308.5 39.5 309.5 39.5 310.5 39.5 311.5 39.5 312.5 37.5M312.5 33.5 312.5 39.5M315.5 33.5 315.5 39.5M315.5 35.5 317.5 34.5 317.5 33.5 319.5 33.5 319.5 34.5 320.5 35.5 320.5 39.5M320.5 35.5 321.5 34.5 322.5 33.5 323.5 33.5 324.5 34.5 325.5 35.5 325.5 39.5M335.5 30.5 335.5 39.5M335.5 30.5 340.5 30.5M335.5 34.5 338.5 34.5M342.5 30.5 342.5 31.5 343.5 30.5 342.5 30.5M342.5 33.5 342.5 39.5M346.5 30.5 346.5 39.5M349.5 30.5 349.5 37.5 350.5 39.5 351.5 39.5M348.5 33.5 351.5 33.5M353.5 36.5 359.5 36.5 359.5 35.5 358.5 34.5 357.5 33.5 356.5 33.5 355.5 34.5 354.5 34.5 353.5 36.5 354.5 38.5 355.5 39.5 356.5 39.5 357.5 39.5 358.5 39.5 359.5 38.5M361.5 33.5 361.5 39.5M361.5 36.5 362.5 34.5 363.5 34.5 364.5 33.5 365.5 33.5"/></g>
<g role="img" aria-label="17-80nm + Xray"><title>17-80nm + Xray</title><path d="M457.5 32.5 458.5 31.5 459.5 30.5 459.5 39.5M470.5 30.5 466.5 39.5M464.5 30.5 470.5 30.5M473.5 35.5 480.5 35.5M485.5 30.5 484.5 31.5 484.5 32.5 484.5 33.5 485.5 34.5 487.5 34.5 488.5 34.5 489.5 35.5 489.5 36.5 489.5 37.5 489.5 38.5 488.5 39.5 487.5 39.5 485.5 39.5 484.5 39.5 484.5 38.5 483.5 37.5 483.5 36.5 484.5 35.5 485.5 34.5 486.5 34.5 488.5 34.5 488.5 33.5 489.5 32.5 489.5 31.5 488.5 31.5 487.5 30.5 485.5 30.5M494.5 30.5 493.5 31.5 492.5 32.5 492.5 34.5 492.5 35.5 492.5 37.5 493.5 39.5 494.5 39.5 495.5 39.5 496.5 39.5 497.5 37.5 498.5 35.5 498.5 34.5 497.5 32.5 496.5 31.5 495.5 30.5 494.5 30.5M501.5 33.5 501.5 39.5M501.5 35.5 502.5 34.5 503.5 33.5 504.5 33.5 505.5 34.5 505.5 35.5 505.5 39.5M509.5 33.5 509.5 39.5M509.5 35.5 510.5 34.5 511.5 33.5 512.5 33.5 513.5 34.5 513.5 35.5 513.5 39.5M513.5 35.5 514.5 34.5 515.5 33.5 517.5 33.5 517.5 34.5 518.5 35.5 518.5 39.5M532.5 31.5 532.5 39.5M528.5 35.5 535.5 35.5M545.5 30.5 551.5 39.5M551.5 30.5 545.5 39.5M554.5 33.5 554.5 39.5M554.5 36.5 554.5 34.5 555.5 34.5 556.5 33.5 557.5 33.5M564.5 33.5 564.5 39.5M564.5 34.5 563.5 34.5 562.5 33.5 561.5 33.5 560.5 34.5 559.5 34.5 559.5 36.5 559.5 38.5 560.5 39.5 561.5 39.5 562.5 39.5 563.5 39.5 564.5 38.5M567.5 33.5 569.5 39.5M572.5 33.5 569.5 39.5 568.5 41.5 567.5 42.5 566.5 42.5"/></g>
</g>
<g stroke="#7f7f7f">
<g role="img" aria-label="Channel 2-4"><title>Channel 2-4</title><path d="M72.5 242.5 72.5 241.5 71.5 241.5 70.5 240.5 68.5 240.5 67.5 241.5 66.5 242.5 66.5 244.5 66.5 246.5 66.5 247.5 67.5 248.5 67.5 249.5 68.5 249.5 70.5 249.5 71.5 249.5 72.5 248.5 72.5 247.5M75.5 240.5 75.5 249.5M75.5 245.5 76.5 244.5 77.5 243.5 78.5 243.5 79.5 244.5 80.5 245.5 80.5 249.5M88.5 243.5 88.5 249.5M88.5 244.5 87.5 244.5 86.5 243.5 85.5 243.5 84.5 244.5 83.5 244.5 82.5 246.5 83.5 248.5 84.5 249.5 85.5 249.5 86.5 249.5 87.5 249.5 88.5 248.5M91.5 243.5 91.5 249.5M91.5 245.5 92.5 244.5 93.5 243.5 94.5 243.5 95.5 244.5 95.5 245.5 95.5 249.5M99.5 243.5 99.5 249.5M99.5 245.5 100.5 244.5 101.5 243.5 102.5 243.5 103.5 244.5 103.5 245.5 103.5 249.5M106.5 246.5 111.5 246.5 111.5 245.5 111.5 244.5 110.5 243.5 109.5 243.5 108.5 244.5 107.5 244.5 106.5 246.5 107.5 248.5 108.5 249.5 109.5 249.5 110.5 249.5 111.5 249.5 111.5 248.5M114.5 240.5 114.5 249.5M124.5 242.5 125.5 241.5 126.5 240.5 128.5 240.5 129.5 241.5 130.5 242.5 130.5 243.5 129.5 244.5 128.5 245.5 124.5 249.5 130.5 249.5M133.5 245.5 140.5 245.5M148.5 240.5 143.5 246.5 150.5 246.5M148.5 240.5 148.5 249.5"/></g>
<g role="img" aria-label="Zirconium Filter"><title>Zirconium Filter</title><path d="M267.5 240.5 261.5 249.5M261.5 240.5 267.5 240.5M261.5 249.5 267.5 249.5M269.5 240.5 269.5 241.5 270.5 240.5 269.5 240.5M269.5 243.5 269.5 249.5M273.5 243.5 273.5 249.5M273.5 246.5 273.5 244.5 274.5 244.5 275.5 243.5 276.5 243.5M283.5 244.5 282.5 244.5 281.5 243.5 280.5 243.5 279.5 244.5 278.5 244.5 278.5 246.5 278.5 248.5 279.5 249.5 280.5 249.5 281.5 249.5 282.5 249.5 283.5 248.5M288.5 243.5 287.5 244.5 286.5 244.5 285.5 246.5 286.5 248.5 287.5 249.5 288.5 249.5 289.5 249.5 290.5 249.5 290.5 248.5 291.5 246.5 290.5 244.5 289.5 243.5 288.5 243.5M294.5 243.5 294.5 249.5M294.5 245.5 295.5 244.5 296.5 243.5 297.5 243.5 298.5 244.5 298.5 245.5 298.5 249.5M301.5 240.5 302.5 241.5 302.5 240.5 301.5 240.5M302.5 243.5 302.5 249.5M305.5 243.5 305.5 247.5 306.5 249.5 308.5 249.5 309.5 249.5 310.5 247.5M310.5 243.5 310.5 249.5M313.5 243.5 313.5 249.5M313.5 245.5 314.5 244.5 315.5 243.5 317.5 243.5 317.5 244.5 318.5 245.5 318.5 249.5M318.5 245.5 319.5 244.5 320.5 243.5 321.5 243.5 322.5 244.5 322.5 245.5 322.5 249.5M332.5 240.5 332.5 249.5M332.5 240.5 338.5 240.5M332.5 244.5 336.5 244.5M340.5 240.5 340.5 241.5 340.5 240.5M340.5 243.5 340.5 249.5M343.5 240.5 343.5 249.5M347.5 240.5 347.5 247.5 348.5 249.5 349.5 249.5M346.5 243.5 349.5 243.5M351.5 246.5 356.5 246.5 356.5 245.5 356.5 244.5 355.5 243.5 353.5 243.5 353.5 244.5 352.5 244.5 351.5 246.5 352.5 248.5 353.5 249.5 355.5 249.5 356.5 249.5 356.5 248.5M359.5 243.5 359.5 249.5M359.5 246.5 360.5 244.5 361.5 244.5 361.5 243.5 363.5 243.5"/></g>
<g role="img" aria-label="6-20nm + Xray"><title>6-20nm + Xray</title><path d="M461.5 241.5 459.5 240.5 457.5 241.5 457.5 242.5 456.5 244.5 456.5 246.5 457.5 248.5 457.5 249.5 459.5 249.5 460.5 249.5 461.5 248.5 462.5 246.5 461.5 245.5 460.5 244.5 459.5 244.5 457.5 244.5 457.5 245.5 456.5 246.5M464.5 245.5 472.5 245.5M475.5 242.5 476.5 241.5 477.5 240.5 479.5 240.5 480.5 241.5 480.5 242.5 480.5 243.5 480.5 244.5 479.5 245.5 475.5 249.5 481.5 249.5M486.5 240.5 485.5 241.5 484.5 242.5 483.5 244.5 483.5 245.5 484.5 247.5 485.5 249.5 486.5 249.5 487.5 249.5 488.5 249.5 489.5 247.5 489.5 245.5 489.5 244.5 489.5 242.5 488.5 241.5 487.5 240.5 486.5 240.5M492.5 243.5 492.5 249.5M492.5 245.5 493.5 244.5 494.5 243.5 496.5 243.5 496.5 244.5 497.5 245.5 497.5 249.5M500.5 243.5 500.5 249.5M500.5 245.5 501.5 244.5 502.5 243.5 504.5 243.5 504.5 244.5 505.5 245.5 505.5 249.5M505.5 245.5 506.5 244.5 507.5 243.5 508.5 243.5 509.5 244.5 509.5 245.5 509.5 249.5M523.5 241.5 523.5 249.5M520.5 245.5 527.5 245.5M537.5 240.5 543.5 249.5M543.5 240.5 537.5 249.5M546.5 243.5 546.5 249.5M546.5 246.5 546.5 244.5 547.5 244.5 548.5 243.5 549.5 243.5M556.5 243.5 556.5 249.5M556.5 244.5 555.5 244.5 554.5 243.5 553.5 243.5 552.5 244.5 551.5 244.5 551.5 246.5 551.5 248.5 552.5 249.5 553.5 249.5 554.5 249.5 555.5 249.5 556.5 248.5M558.5 243.5 561.5 249.5M563.5 243.5 561.5 249.5 560.5 251.5 559.5 252.5 558.5 252.5"/></g>
</g>
</svg>
</body></html>
